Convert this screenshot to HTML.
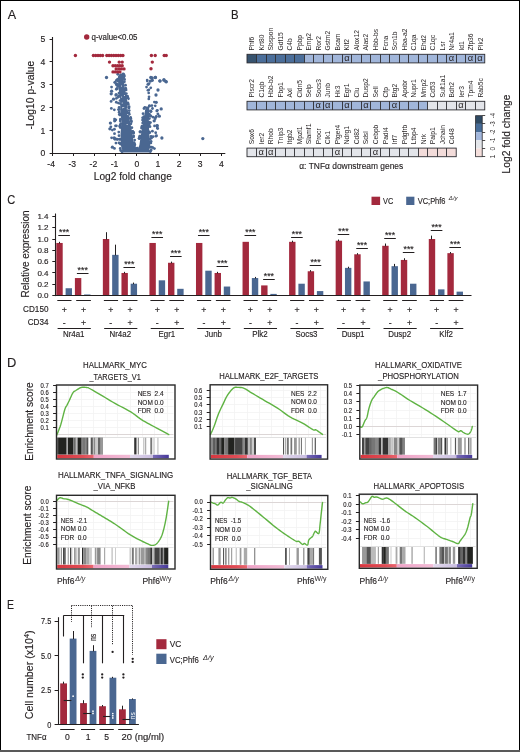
<!DOCTYPE html>
<html><head><meta charset="utf-8"><style>
html,body{margin:0;padding:0;background:#fff;}
body{width:520px;height:752px;overflow:hidden;position:relative;}
svg{position:absolute;left:0;top:0;font-family:"Liberation Sans", sans-serif;will-change:transform;}
</style></head><body>
<svg width="520" height="752" viewBox="0 0 520 752">
<rect x="0" y="0" width="520" height="752" fill="#fff"/>
<text x="7.8" y="19.2" font-size="13" text-anchor="start" fill="#231f20" textLength="8.4" lengthAdjust="spacingAndGlyphs" stroke="#231f20" stroke-width="0.15">A</text>
<text x="231" y="19.4" font-size="13" text-anchor="start" fill="#231f20" textLength="7.6" lengthAdjust="spacingAndGlyphs" stroke="#231f20" stroke-width="0.15">B</text>
<text x="7.2" y="204.4" font-size="13" text-anchor="start" fill="#231f20" textLength="8" lengthAdjust="spacingAndGlyphs" stroke="#231f20" stroke-width="0.15">C</text>
<text x="6.9" y="366.8" font-size="13" text-anchor="start" fill="#231f20" textLength="9.3" lengthAdjust="spacingAndGlyphs" stroke="#231f20" stroke-width="0.15">D</text>
<text x="6.9" y="608.9" font-size="13" text-anchor="start" fill="#231f20" textLength="7" lengthAdjust="spacingAndGlyphs" stroke="#231f20" stroke-width="0.15">E</text>
<polygon points="123,152.6 120.7,145 120.5,133.4 121.5,121.9 120.3,110.4 120.1,98.8 118.3,87.3 118.1,76 120,73.5 122.8,73.5 124.7,87.3 127.1,98.8 127.9,110.4 130.1,121.9 132.5,133.4 133.8,145 134.4,148.6 138.1,148.6 139.4,145 141.1,133.4 143.3,121.9 145,110.4 146.1,106.5 149.1,106.5 149.3,110.4 148.8,121.9 149.3,133.4 150.3,145 148.9,152.6" fill="#4a6791"/>
<circle cx="120.66" cy="150.44" r="1.4" fill="#4a6791"/>
<circle cx="122.01" cy="151.78" r="1.4" fill="#4a6791"/>
<circle cx="121.98" cy="151.23" r="1.4" fill="#4a6791"/>
<circle cx="120.24" cy="148.49" r="1.4" fill="#4a6791"/>
<circle cx="120.37" cy="139.32" r="1.4" fill="#4a6791"/>
<circle cx="120.01" cy="143.31" r="1.4" fill="#4a6791"/>
<circle cx="119.48" cy="139.26" r="1.4" fill="#4a6791"/>
<circle cx="120.51" cy="144.04" r="1.4" fill="#4a6791"/>
<circle cx="119.01" cy="142.94" r="1.4" fill="#4a6791"/>
<circle cx="119" cy="135.7" r="1.4" fill="#4a6791"/>
<circle cx="119.98" cy="126.15" r="1.4" fill="#4a6791"/>
<circle cx="118.78" cy="132.09" r="1.4" fill="#4a6791"/>
<circle cx="120.14" cy="125.2" r="1.4" fill="#4a6791"/>
<circle cx="120.09" cy="126.27" r="1.4" fill="#4a6791"/>
<circle cx="120.79" cy="123.75" r="1.4" fill="#4a6791"/>
<circle cx="120.22" cy="127.54" r="1.4" fill="#4a6791"/>
<circle cx="119.3" cy="114.47" r="1.4" fill="#4a6791"/>
<circle cx="120.29" cy="121.06" r="1.4" fill="#4a6791"/>
<circle cx="120.4" cy="119.23" r="1.4" fill="#4a6791"/>
<circle cx="120.33" cy="114.36" r="1.4" fill="#4a6791"/>
<circle cx="119.18" cy="112.22" r="1.4" fill="#4a6791"/>
<circle cx="120.05" cy="114.98" r="1.4" fill="#4a6791"/>
<circle cx="120.12" cy="100.6" r="1.4" fill="#4a6791"/>
<circle cx="118.39" cy="103.1" r="1.4" fill="#4a6791"/>
<circle cx="120.26" cy="103.54" r="1.4" fill="#4a6791"/>
<circle cx="119.11" cy="107.44" r="1.4" fill="#4a6791"/>
<circle cx="119.32" cy="109.47" r="1.4" fill="#4a6791"/>
<circle cx="118.49" cy="109.58" r="1.4" fill="#4a6791"/>
<circle cx="118.46" cy="97.09" r="1.4" fill="#4a6791"/>
<circle cx="116.79" cy="88.68" r="1.4" fill="#4a6791"/>
<circle cx="118.98" cy="93.12" r="1.4" fill="#4a6791"/>
<circle cx="117.2" cy="88.69" r="1.4" fill="#4a6791"/>
<circle cx="119.32" cy="95.59" r="1.4" fill="#4a6791"/>
<circle cx="118.28" cy="96.53" r="1.4" fill="#4a6791"/>
<circle cx="117.32" cy="84.84" r="1.4" fill="#4a6791"/>
<circle cx="116.36" cy="84.17" r="1.4" fill="#4a6791"/>
<circle cx="117.46" cy="84.03" r="1.4" fill="#4a6791"/>
<circle cx="117.29" cy="79.73" r="1.4" fill="#4a6791"/>
<circle cx="116.37" cy="80.46" r="1.4" fill="#4a6791"/>
<circle cx="117.99" cy="79.08" r="1.4" fill="#4a6791"/>
<circle cx="117.74" cy="74.23" r="1.4" fill="#4a6791"/>
<circle cx="124.38" cy="81.73" r="1.4" fill="#4a6791"/>
<circle cx="123.69" cy="76.19" r="1.4" fill="#4a6791"/>
<circle cx="123.2" cy="73.81" r="1.4" fill="#4a6791"/>
<circle cx="123.73" cy="74.33" r="1.4" fill="#4a6791"/>
<circle cx="125.5" cy="85.14" r="1.4" fill="#4a6791"/>
<circle cx="124" cy="76.82" r="1.4" fill="#4a6791"/>
<circle cx="124.35" cy="75.79" r="1.4" fill="#4a6791"/>
<circle cx="124.57" cy="79.43" r="1.4" fill="#4a6791"/>
<circle cx="125.66" cy="88.19" r="1.4" fill="#4a6791"/>
<circle cx="127.18" cy="96.26" r="1.4" fill="#4a6791"/>
<circle cx="127.92" cy="97.81" r="1.4" fill="#4a6791"/>
<circle cx="126.34" cy="93.58" r="1.4" fill="#4a6791"/>
<circle cx="128.38" cy="98.79" r="1.4" fill="#4a6791"/>
<circle cx="126.07" cy="89.9" r="1.4" fill="#4a6791"/>
<circle cx="127.49" cy="96.51" r="1.4" fill="#4a6791"/>
<circle cx="127.93" cy="103" r="1.4" fill="#4a6791"/>
<circle cx="129.21" cy="110.59" r="1.4" fill="#4a6791"/>
<circle cx="128.94" cy="107.96" r="1.4" fill="#4a6791"/>
<circle cx="128.24" cy="104.24" r="1.4" fill="#4a6791"/>
<circle cx="127.76" cy="98.84" r="1.4" fill="#4a6791"/>
<circle cx="129.1" cy="106.77" r="1.4" fill="#4a6791"/>
<circle cx="131.45" cy="121.72" r="1.4" fill="#4a6791"/>
<circle cx="129.27" cy="114.27" r="1.4" fill="#4a6791"/>
<circle cx="128.88" cy="112.81" r="1.4" fill="#4a6791"/>
<circle cx="131.19" cy="120.73" r="1.4" fill="#4a6791"/>
<circle cx="130.6" cy="117.41" r="1.4" fill="#4a6791"/>
<circle cx="130.75" cy="118.34" r="1.4" fill="#4a6791"/>
<circle cx="130.42" cy="118.64" r="1.4" fill="#4a6791"/>
<circle cx="132.69" cy="131.34" r="1.4" fill="#4a6791"/>
<circle cx="133.21" cy="132.96" r="1.4" fill="#4a6791"/>
<circle cx="133.54" cy="132.39" r="1.4" fill="#4a6791"/>
<circle cx="130.89" cy="123.85" r="1.4" fill="#4a6791"/>
<circle cx="132.51" cy="131.57" r="1.4" fill="#4a6791"/>
<circle cx="133.54" cy="132.99" r="1.4" fill="#4a6791"/>
<circle cx="131.87" cy="127.63" r="1.4" fill="#4a6791"/>
<circle cx="134.84" cy="144.69" r="1.4" fill="#4a6791"/>
<circle cx="134.53" cy="144.68" r="1.4" fill="#4a6791"/>
<circle cx="134.13" cy="142.69" r="1.4" fill="#4a6791"/>
<circle cx="133.47" cy="136.9" r="1.4" fill="#4a6791"/>
<circle cx="133.64" cy="135.97" r="1.4" fill="#4a6791"/>
<circle cx="134.41" cy="143.91" r="1.4" fill="#4a6791"/>
<circle cx="134.64" cy="140.07" r="1.4" fill="#4a6791"/>
<circle cx="135.25" cy="148.34" r="1.4" fill="#4a6791"/>
<circle cx="134.44" cy="146.81" r="1.4" fill="#4a6791"/>
<circle cx="136.84" cy="148.3" r="1.4" fill="#4a6791"/>
<circle cx="137.39" cy="148.25" r="1.4" fill="#4a6791"/>
<circle cx="139.24" cy="138.57" r="1.4" fill="#4a6791"/>
<circle cx="139.79" cy="138.08" r="1.4" fill="#4a6791"/>
<circle cx="139.15" cy="138.23" r="1.4" fill="#4a6791"/>
<circle cx="139.82" cy="136.12" r="1.4" fill="#4a6791"/>
<circle cx="140.29" cy="136.12" r="1.4" fill="#4a6791"/>
<circle cx="139.55" cy="137.91" r="1.4" fill="#4a6791"/>
<circle cx="139.62" cy="137" r="1.4" fill="#4a6791"/>
<circle cx="141.78" cy="128.14" r="1.4" fill="#4a6791"/>
<circle cx="142.66" cy="123.03" r="1.4" fill="#4a6791"/>
<circle cx="141.96" cy="127.37" r="1.4" fill="#4a6791"/>
<circle cx="140.05" cy="131.75" r="1.4" fill="#4a6791"/>
<circle cx="140.05" cy="132.05" r="1.4" fill="#4a6791"/>
<circle cx="142.01" cy="126.18" r="1.4" fill="#4a6791"/>
<circle cx="140.8" cy="131.82" r="1.4" fill="#4a6791"/>
<circle cx="143.1" cy="120.82" r="1.4" fill="#4a6791"/>
<circle cx="143.32" cy="119.25" r="1.4" fill="#4a6791"/>
<circle cx="143.82" cy="116.7" r="1.4" fill="#4a6791"/>
<circle cx="142.59" cy="120.06" r="1.4" fill="#4a6791"/>
<circle cx="142.61" cy="117.78" r="1.4" fill="#4a6791"/>
<circle cx="143.05" cy="113.66" r="1.4" fill="#4a6791"/>
<circle cx="144.01" cy="108.48" r="1.4" fill="#4a6791"/>
<circle cx="144.8" cy="107.44" r="1.4" fill="#4a6791"/>
<circle cx="150.77" cy="111.29" r="1.4" fill="#4a6791"/>
<circle cx="149.55" cy="105.99" r="1.4" fill="#4a6791"/>
<circle cx="149.35" cy="118.62" r="1.4" fill="#4a6791"/>
<circle cx="150.81" cy="115.89" r="1.4" fill="#4a6791"/>
<circle cx="149.37" cy="114.21" r="1.4" fill="#4a6791"/>
<circle cx="150.32" cy="116.14" r="1.4" fill="#4a6791"/>
<circle cx="150.55" cy="110.91" r="1.4" fill="#4a6791"/>
<circle cx="151.04" cy="111.5" r="1.4" fill="#4a6791"/>
<circle cx="149.27" cy="131.83" r="1.4" fill="#4a6791"/>
<circle cx="150.46" cy="122.57" r="1.4" fill="#4a6791"/>
<circle cx="149.98" cy="126.65" r="1.4" fill="#4a6791"/>
<circle cx="149.09" cy="125.03" r="1.4" fill="#4a6791"/>
<circle cx="149.04" cy="123.96" r="1.4" fill="#4a6791"/>
<circle cx="149.13" cy="122.1" r="1.4" fill="#4a6791"/>
<circle cx="151.02" cy="136.52" r="1.4" fill="#4a6791"/>
<circle cx="150.06" cy="138.9" r="1.4" fill="#4a6791"/>
<circle cx="149.72" cy="132.64" r="1.4" fill="#4a6791"/>
<circle cx="151.04" cy="141.28" r="1.4" fill="#4a6791"/>
<circle cx="151.54" cy="138.12" r="1.4" fill="#4a6791"/>
<circle cx="150.88" cy="142.89" r="1.4" fill="#4a6791"/>
<circle cx="149.82" cy="151.36" r="1.4" fill="#4a6791"/>
<circle cx="151.2" cy="149.91" r="1.4" fill="#4a6791"/>
<circle cx="150.45" cy="151.6" r="1.4" fill="#4a6791"/>
<circle cx="150.33" cy="147.18" r="1.4" fill="#4a6791"/>
<circle cx="147.14" cy="80.02" r="1.35" fill="#4a6791"/>
<circle cx="148.8" cy="98.97" r="1.35" fill="#4a6791"/>
<circle cx="147.26" cy="81.06" r="1.35" fill="#4a6791"/>
<circle cx="154.33" cy="102.08" r="1.35" fill="#4a6791"/>
<circle cx="149.04" cy="96.79" r="1.35" fill="#4a6791"/>
<circle cx="149.14" cy="83.51" r="1.35" fill="#4a6791"/>
<circle cx="147.92" cy="90.24" r="1.35" fill="#4a6791"/>
<circle cx="148.87" cy="89.82" r="1.35" fill="#4a6791"/>
<circle cx="155.25" cy="105.82" r="1.35" fill="#4a6791"/>
<circle cx="148.7" cy="92.96" r="1.35" fill="#4a6791"/>
<circle cx="149.29" cy="105.94" r="1.35" fill="#4a6791"/>
<circle cx="146.51" cy="87.05" r="1.35" fill="#4a6791"/>
<circle cx="150.77" cy="87.83" r="1.35" fill="#4a6791"/>
<circle cx="123.75" cy="107.62" r="0.5" fill="#ffffff"/>
<circle cx="122.59" cy="107.71" r="0.5" fill="#ffffff"/>
<circle cx="121.65" cy="96.89" r="0.5" fill="#ffffff"/>
<circle cx="122.18" cy="102.98" r="0.5" fill="#ffffff"/>
<circle cx="121.49" cy="86.01" r="0.5" fill="#ffffff"/>
<circle cx="124.44" cy="95.48" r="0.5" fill="#ffffff"/>
<circle cx="127.21" cy="108.81" r="0.5" fill="#ffffff"/>
<circle cx="127.77" cy="114.59" r="0.5" fill="#ffffff"/>
<circle cx="127.14" cy="124.56" r="0.5" fill="#ffffff"/>
<circle cx="127.39" cy="99.68" r="0.5" fill="#ffffff"/>
<circle cx="116.29" cy="94.72" r="1.4" fill="#4a6791"/>
<circle cx="110.85" cy="126.81" r="1.4" fill="#4a6791"/>
<circle cx="117.64" cy="139.29" r="1.4" fill="#4a6791"/>
<circle cx="116.37" cy="125.78" r="1.4" fill="#4a6791"/>
<circle cx="111.61" cy="137.79" r="1.4" fill="#4a6791"/>
<circle cx="114.53" cy="119.04" r="1.4" fill="#4a6791"/>
<circle cx="116.94" cy="139.27" r="1.4" fill="#4a6791"/>
<circle cx="115.17" cy="138.72" r="1.4" fill="#4a6791"/>
<circle cx="115.96" cy="143.03" r="1.4" fill="#4a6791"/>
<circle cx="112.34" cy="130.07" r="1.4" fill="#4a6791"/>
<circle cx="111.56" cy="87.03" r="1.4" fill="#4a6791"/>
<circle cx="111.34" cy="108.45" r="1.4" fill="#4a6791"/>
<circle cx="114.97" cy="139.33" r="1.4" fill="#4a6791"/>
<circle cx="115.51" cy="125.8" r="1.4" fill="#4a6791"/>
<circle cx="114.41" cy="129.24" r="1.4" fill="#4a6791"/>
<circle cx="116.88" cy="85.22" r="1.4" fill="#4a6791"/>
<circle cx="114.52" cy="133.64" r="1.4" fill="#4a6791"/>
<circle cx="115.77" cy="119.79" r="1.4" fill="#4a6791"/>
<circle cx="116.39" cy="89.29" r="1.4" fill="#4a6791"/>
<circle cx="111.1" cy="101.39" r="1.4" fill="#4a6791"/>
<circle cx="116.33" cy="102.26" r="1.4" fill="#4a6791"/>
<circle cx="116.42" cy="98.34" r="1.4" fill="#4a6791"/>
<circle cx="114.45" cy="148.42" r="1.4" fill="#4a6791"/>
<circle cx="114.33" cy="109.87" r="1.4" fill="#4a6791"/>
<circle cx="156.49" cy="135.77" r="1.4" fill="#4a6791"/>
<circle cx="155.68" cy="132.76" r="1.4" fill="#4a6791"/>
<circle cx="152.46" cy="108.49" r="1.4" fill="#4a6791"/>
<circle cx="156.33" cy="116.43" r="1.4" fill="#4a6791"/>
<circle cx="155.19" cy="118.7" r="1.4" fill="#4a6791"/>
<circle cx="151.89" cy="105.56" r="1.4" fill="#4a6791"/>
<circle cx="155.87" cy="117.09" r="1.4" fill="#4a6791"/>
<circle cx="155.89" cy="136.15" r="1.4" fill="#4a6791"/>
<circle cx="154.86" cy="118.09" r="1.4" fill="#4a6791"/>
<circle cx="154.53" cy="125.91" r="1.4" fill="#4a6791"/>
<circle cx="157.31" cy="110.33" r="1.4" fill="#4a6791"/>
<circle cx="157.86" cy="113.97" r="1.4" fill="#4a6791"/>
<circle cx="151.61" cy="147.13" r="1.4" fill="#4a6791"/>
<circle cx="156.83" cy="125.65" r="1.4" fill="#4a6791"/>
<circle cx="154.42" cy="148.56" r="1.4" fill="#4a6791"/>
<circle cx="152.86" cy="117.09" r="1.4" fill="#4a6791"/>
<circle cx="152.87" cy="147.55" r="1.4" fill="#4a6791"/>
<circle cx="152.42" cy="131.17" r="1.4" fill="#4a6791"/>
<circle cx="157.69" cy="128.58" r="1.4" fill="#4a6791"/>
<circle cx="156.83" cy="110.97" r="1.4" fill="#4a6791"/>
<circle cx="157.26" cy="127.89" r="1.4" fill="#4a6791"/>
<circle cx="153" cy="136.65" r="1.4" fill="#4a6791"/>
<circle cx="106.5" cy="77.5" r="1.65" fill="#4a6791"/>
<circle cx="110.4" cy="123.1" r="1.65" fill="#4a6791"/>
<circle cx="109.9" cy="128.8" r="1.65" fill="#4a6791"/>
<circle cx="114.2" cy="138" r="1.65" fill="#4a6791"/>
<circle cx="112.4" cy="147.2" r="1.65" fill="#4a6791"/>
<circle cx="114.7" cy="120.8" r="1.65" fill="#4a6791"/>
<circle cx="161.2" cy="108.9" r="1.65" fill="#4a6791"/>
<circle cx="159.3" cy="116.2" r="1.65" fill="#4a6791"/>
<circle cx="157.3" cy="125.7" r="1.65" fill="#4a6791"/>
<circle cx="161.9" cy="138" r="1.65" fill="#4a6791"/>
<circle cx="159.9" cy="80.8" r="1.65" fill="#4a6791"/>
<circle cx="165.8" cy="81.5" r="1.65" fill="#4a6791"/>
<circle cx="163.9" cy="80" r="1.65" fill="#4a6791"/>
<circle cx="155.3" cy="77.4" r="1.65" fill="#4a6791"/>
<circle cx="152.2" cy="78" r="1.65" fill="#4a6791"/>
<circle cx="156.2" cy="102.3" r="1.65" fill="#4a6791"/>
<circle cx="154.2" cy="120.8" r="1.65" fill="#4a6791"/>
<circle cx="111.6" cy="91.2" r="1.65" fill="#4a6791"/>
<circle cx="111.2" cy="93.8" r="1.65" fill="#4a6791"/>
<circle cx="113.5" cy="99.2" r="1.65" fill="#4a6791"/>
<circle cx="118.1" cy="80.8" r="1.65" fill="#4a6791"/>
<circle cx="115" cy="82.3" r="1.65" fill="#4a6791"/>
<circle cx="119.6" cy="77.7" r="1.65" fill="#4a6791"/>
<circle cx="202.8" cy="138.6" r="1.65" fill="#4a6791"/>
<circle cx="150.8" cy="77.5" r="1.65" fill="#4a6791"/>
<circle cx="155.4" cy="77.5" r="1.65" fill="#4a6791"/>
<circle cx="152.3" cy="80.3" r="1.65" fill="#4a6791"/>
<circle cx="150.4" cy="81.1" r="1.65" fill="#4a6791"/>
<circle cx="160" cy="81.1" r="1.65" fill="#4a6791"/>
<circle cx="164" cy="79.9" r="1.65" fill="#4a6791"/>
<circle cx="166.3" cy="81.8" r="1.65" fill="#4a6791"/>
<circle cx="148.1" cy="84.3" r="1.65" fill="#4a6791"/>
<circle cx="121" cy="76" r="1.65" fill="#4a6791"/>
<circle cx="123" cy="78" r="1.65" fill="#4a6791"/>
<circle cx="118" cy="86" r="1.65" fill="#4a6791"/>
<circle cx="116" cy="95" r="1.65" fill="#4a6791"/>
<circle cx="158" cy="90" r="1.65" fill="#4a6791"/>
<circle cx="156" cy="95" r="1.65" fill="#4a6791"/>
<circle cx="75.4" cy="55.5" r="1.7" fill="#a3293d"/>
<circle cx="109.5" cy="62.1" r="1.7" fill="#a3293d"/>
<circle cx="119.2" cy="62.1" r="1.7" fill="#a3293d"/>
<circle cx="122.2" cy="62.1" r="1.7" fill="#a3293d"/>
<circle cx="151.4" cy="55.5" r="1.7" fill="#a3293d"/>
<circle cx="155.2" cy="55.5" r="1.7" fill="#a3293d"/>
<circle cx="164.2" cy="55.5" r="1.7" fill="#a3293d"/>
<circle cx="166.2" cy="55.5" r="1.7" fill="#a3293d"/>
<circle cx="152.3" cy="62.1" r="1.7" fill="#a3293d"/>
<circle cx="151" cy="68.8" r="1.7" fill="#a3293d"/>
<circle cx="93.4" cy="55.5" r="1.7" fill="#a3293d"/>
<circle cx="95.7" cy="55.5" r="1.7" fill="#a3293d"/>
<circle cx="98" cy="55.5" r="1.7" fill="#a3293d"/>
<circle cx="100.3" cy="55.5" r="1.7" fill="#a3293d"/>
<circle cx="102.6" cy="55.5" r="1.7" fill="#a3293d"/>
<circle cx="106.8" cy="55.5" r="1.7" fill="#a3293d"/>
<circle cx="109.1" cy="55.5" r="1.7" fill="#a3293d"/>
<circle cx="111.4" cy="55.5" r="1.7" fill="#a3293d"/>
<circle cx="113.7" cy="55.5" r="1.7" fill="#a3293d"/>
<circle cx="116" cy="55.5" r="1.7" fill="#a3293d"/>
<circle cx="118.3" cy="55.5" r="1.7" fill="#a3293d"/>
<circle cx="120.6" cy="55.5" r="1.7" fill="#a3293d"/>
<circle cx="122.9" cy="55.5" r="1.7" fill="#a3293d"/>
<circle cx="113" cy="65.8" r="1.7" fill="#a3293d"/>
<circle cx="115.3" cy="65.8" r="1.7" fill="#a3293d"/>
<circle cx="117.6" cy="65.8" r="1.7" fill="#a3293d"/>
<circle cx="119.9" cy="65.8" r="1.7" fill="#a3293d"/>
<circle cx="122.2" cy="65.8" r="1.7" fill="#a3293d"/>
<circle cx="116.2" cy="68.9" r="1.7" fill="#a3293d"/>
<circle cx="118.8" cy="68.9" r="1.7" fill="#a3293d"/>
<circle cx="121.4" cy="68.9" r="1.7" fill="#a3293d"/>
<circle cx="124" cy="68.9" r="1.7" fill="#a3293d"/>
<circle cx="113" cy="71.9" r="1.7" fill="#a3293d"/>
<circle cx="115.3" cy="71.9" r="1.7" fill="#a3293d"/>
<circle cx="117.6" cy="71.9" r="1.7" fill="#a3293d"/>
<circle cx="119.9" cy="71.9" r="1.7" fill="#a3293d"/>
<circle cx="86.7" cy="37" r="2.7" fill="#a3293d"/>
<text x="91.5" y="39.6" font-size="8.2" text-anchor="start" fill="#231f20" textLength="46" lengthAdjust="spacingAndGlyphs" stroke="#231f20" stroke-width="0.15">q-value&lt;0.05</text>
<line x1="52.5" y1="37" x2="52.5" y2="153.6" stroke="#231f20" stroke-width="1.1"/>
<line x1="52" y1="153.5" x2="225.3" y2="153.5" stroke="#231f20" stroke-width="1.2"/>
<line x1="49.6" y1="153.5" x2="52.5" y2="153.5" stroke="#231f20" stroke-width="1"/>
<text x="45.2" y="156.3" font-size="8.6" text-anchor="end" fill="#231f20" stroke="#231f20" stroke-width="0.15">0</text>
<line x1="49.6" y1="130.5" x2="52.5" y2="130.5" stroke="#231f20" stroke-width="1"/>
<text x="45.2" y="133.52" font-size="8.6" text-anchor="end" fill="#231f20" stroke="#231f20" stroke-width="0.15">1</text>
<line x1="49.6" y1="107.5" x2="52.5" y2="107.5" stroke="#231f20" stroke-width="1"/>
<text x="45.2" y="110.74" font-size="8.6" text-anchor="end" fill="#231f20" stroke="#231f20" stroke-width="0.15">2</text>
<line x1="49.6" y1="84.5" x2="52.5" y2="84.5" stroke="#231f20" stroke-width="1"/>
<text x="45.2" y="87.96" font-size="8.6" text-anchor="end" fill="#231f20" stroke="#231f20" stroke-width="0.15">3</text>
<line x1="49.6" y1="61.5" x2="52.5" y2="61.5" stroke="#231f20" stroke-width="1"/>
<text x="45.2" y="65.18" font-size="8.6" text-anchor="end" fill="#231f20" stroke="#231f20" stroke-width="0.15">4</text>
<line x1="49.6" y1="39.5" x2="52.5" y2="39.5" stroke="#231f20" stroke-width="1"/>
<text x="45.2" y="42.4" font-size="8.6" text-anchor="end" fill="#231f20" stroke="#231f20" stroke-width="0.15">5</text>
<line x1="52.5" y1="153" x2="52.5" y2="156" stroke="#231f20" stroke-width="1"/>
<text x="51.2" y="167.4" font-size="8.6" text-anchor="middle" fill="#231f20" stroke="#231f20" stroke-width="0.15">-4</text>
<line x1="73.5" y1="153" x2="73.5" y2="156" stroke="#231f20" stroke-width="1"/>
<text x="72.3" y="167.4" font-size="8.6" text-anchor="middle" fill="#231f20" stroke="#231f20" stroke-width="0.15">-3</text>
<line x1="94.5" y1="153" x2="94.5" y2="156" stroke="#231f20" stroke-width="1"/>
<text x="93.4" y="167.4" font-size="8.6" text-anchor="middle" fill="#231f20" stroke="#231f20" stroke-width="0.15">-2</text>
<line x1="115.5" y1="153" x2="115.5" y2="156" stroke="#231f20" stroke-width="1"/>
<text x="114.5" y="167.4" font-size="8.6" text-anchor="middle" fill="#231f20" stroke="#231f20" stroke-width="0.15">-1</text>
<line x1="136.5" y1="153" x2="136.5" y2="156" stroke="#231f20" stroke-width="1"/>
<text x="136.9" y="167.4" font-size="8.6" text-anchor="middle" fill="#231f20" stroke="#231f20" stroke-width="0.15">0</text>
<line x1="158.5" y1="153" x2="158.5" y2="156" stroke="#231f20" stroke-width="1"/>
<text x="158" y="167.4" font-size="8.6" text-anchor="middle" fill="#231f20" stroke="#231f20" stroke-width="0.15">1</text>
<line x1="179.5" y1="153" x2="179.5" y2="156" stroke="#231f20" stroke-width="1"/>
<text x="179.1" y="167.4" font-size="8.6" text-anchor="middle" fill="#231f20" stroke="#231f20" stroke-width="0.15">2</text>
<line x1="200.5" y1="153" x2="200.5" y2="156" stroke="#231f20" stroke-width="1"/>
<text x="200.2" y="167.4" font-size="8.6" text-anchor="middle" fill="#231f20" stroke="#231f20" stroke-width="0.15">3</text>
<line x1="221.5" y1="153" x2="221.5" y2="156" stroke="#231f20" stroke-width="1"/>
<text x="221.3" y="167.4" font-size="8.6" text-anchor="middle" fill="#231f20" stroke="#231f20" stroke-width="0.15">4</text>
<text transform="translate(34.4,95.2) rotate(-90)" font-size="10.2" text-anchor="middle" fill="#231f20" textLength="68.7" lengthAdjust="spacingAndGlyphs" stroke="#231f20" stroke-width="0.15">-Log10 p-value</text>
<text x="132.8" y="179.9" font-size="10.2" text-anchor="middle" fill="#231f20" textLength="78" lengthAdjust="spacingAndGlyphs" stroke="#231f20" stroke-width="0.15">Log2 fold change</text>
<rect x="247" y="54.3" width="9.51" height="8.6" fill="#37536f"/>
<rect x="256.51" y="54.3" width="9.51" height="8.6" fill="#4b6e9a"/>
<rect x="266.02" y="54.3" width="9.51" height="8.6" fill="#4b6e9a"/>
<rect x="275.53" y="54.3" width="9.51" height="8.6" fill="#4b6e9a"/>
<rect x="285.04" y="54.3" width="9.51" height="8.6" fill="#4b6e9a"/>
<rect x="294.55" y="54.3" width="9.51" height="8.6" fill="#4b6e9a"/>
<rect x="304.06" y="54.3" width="9.51" height="8.6" fill="#a1b6da"/>
<rect x="313.57" y="54.3" width="9.51" height="8.6" fill="#a1b6da"/>
<rect x="323.08" y="54.3" width="9.51" height="8.6" fill="#a1b6da"/>
<rect x="332.59" y="54.3" width="9.51" height="8.6" fill="#a1b6da"/>
<rect x="342.1" y="54.3" width="9.51" height="8.6" fill="#a1b6da"/>
<rect x="351.61" y="54.3" width="9.51" height="8.6" fill="#a1b6da"/>
<rect x="361.12" y="54.3" width="9.51" height="8.6" fill="#a1b6da"/>
<rect x="370.63" y="54.3" width="9.51" height="8.6" fill="#a1b6da"/>
<rect x="380.14" y="54.3" width="9.51" height="8.6" fill="#a1b6da"/>
<rect x="389.65" y="54.3" width="9.51" height="8.6" fill="#a1b6da"/>
<rect x="399.16" y="54.3" width="9.51" height="8.6" fill="#a1b6da"/>
<rect x="408.67" y="54.3" width="9.51" height="8.6" fill="#a1b6da"/>
<rect x="418.18" y="54.3" width="9.51" height="8.6" fill="#a1b6da"/>
<rect x="427.69" y="54.3" width="9.51" height="8.6" fill="#a1b6da"/>
<rect x="437.2" y="54.3" width="9.51" height="8.6" fill="#a1b6da"/>
<rect x="446.71" y="54.3" width="9.51" height="8.6" fill="#a1b6da"/>
<rect x="456.22" y="54.3" width="9.51" height="8.6" fill="#a1b6da"/>
<rect x="465.73" y="54.3" width="9.51" height="8.6" fill="#a1b6da"/>
<rect x="475.24" y="54.3" width="9.51" height="8.6" fill="#a1b6da"/>
<rect x="247" y="54.3" width="237.75" height="8.6" fill="none" stroke="#2b2b30" stroke-width="0.9"/>
<line x1="256.5" y1="54.3" x2="256.5" y2="62.9" stroke="#2b2b30" stroke-width="0.9"/>
<line x1="266.5" y1="54.3" x2="266.5" y2="62.9" stroke="#2b2b30" stroke-width="0.9"/>
<line x1="275.5" y1="54.3" x2="275.5" y2="62.9" stroke="#2b2b30" stroke-width="0.9"/>
<line x1="285.5" y1="54.3" x2="285.5" y2="62.9" stroke="#2b2b30" stroke-width="0.9"/>
<line x1="294.5" y1="54.3" x2="294.5" y2="62.9" stroke="#2b2b30" stroke-width="0.9"/>
<line x1="304.5" y1="54.3" x2="304.5" y2="62.9" stroke="#2b2b30" stroke-width="0.9"/>
<line x1="313.5" y1="54.3" x2="313.5" y2="62.9" stroke="#2b2b30" stroke-width="0.9"/>
<line x1="323.5" y1="54.3" x2="323.5" y2="62.9" stroke="#2b2b30" stroke-width="0.9"/>
<line x1="332.5" y1="54.3" x2="332.5" y2="62.9" stroke="#2b2b30" stroke-width="0.9"/>
<line x1="342.5" y1="54.3" x2="342.5" y2="62.9" stroke="#2b2b30" stroke-width="0.9"/>
<line x1="351.5" y1="54.3" x2="351.5" y2="62.9" stroke="#2b2b30" stroke-width="0.9"/>
<line x1="361.5" y1="54.3" x2="361.5" y2="62.9" stroke="#2b2b30" stroke-width="0.9"/>
<line x1="370.5" y1="54.3" x2="370.5" y2="62.9" stroke="#2b2b30" stroke-width="0.9"/>
<line x1="380.5" y1="54.3" x2="380.5" y2="62.9" stroke="#2b2b30" stroke-width="0.9"/>
<line x1="389.5" y1="54.3" x2="389.5" y2="62.9" stroke="#2b2b30" stroke-width="0.9"/>
<line x1="399.5" y1="54.3" x2="399.5" y2="62.9" stroke="#2b2b30" stroke-width="0.9"/>
<line x1="408.5" y1="54.3" x2="408.5" y2="62.9" stroke="#2b2b30" stroke-width="0.9"/>
<line x1="418.5" y1="54.3" x2="418.5" y2="62.9" stroke="#2b2b30" stroke-width="0.9"/>
<line x1="427.5" y1="54.3" x2="427.5" y2="62.9" stroke="#2b2b30" stroke-width="0.9"/>
<line x1="437.5" y1="54.3" x2="437.5" y2="62.9" stroke="#2b2b30" stroke-width="0.9"/>
<line x1="446.5" y1="54.3" x2="446.5" y2="62.9" stroke="#2b2b30" stroke-width="0.9"/>
<line x1="456.5" y1="54.3" x2="456.5" y2="62.9" stroke="#2b2b30" stroke-width="0.9"/>
<line x1="465.5" y1="54.3" x2="465.5" y2="62.9" stroke="#2b2b30" stroke-width="0.9"/>
<line x1="475.5" y1="54.3" x2="475.5" y2="62.9" stroke="#2b2b30" stroke-width="0.9"/>
<text transform="translate(254.35,50.5) rotate(-90)" font-size="7.4" text-anchor="start" fill="#2a2627" textLength="13.7" lengthAdjust="spacingAndGlyphs">Phf6</text>
<text transform="translate(263.87,50.5) rotate(-90)" font-size="7.4" text-anchor="start" fill="#2a2627" textLength="15.92" lengthAdjust="spacingAndGlyphs">Krt80</text>
<text transform="translate(273.38,50.5) rotate(-90)" font-size="7.4" text-anchor="start" fill="#2a2627" textLength="22.59" lengthAdjust="spacingAndGlyphs">Sbspon</text>
<text transform="translate(282.88,50.5) rotate(-90)" font-size="7.4" text-anchor="start" fill="#2a2627" textLength="18.14" lengthAdjust="spacingAndGlyphs">Gdf15</text>
<text transform="translate(292.4,50.5) rotate(-90)" font-size="7.4" text-anchor="start" fill="#2a2627" textLength="12.22" lengthAdjust="spacingAndGlyphs">C4b</text>
<text transform="translate(301.91,50.5) rotate(-90)" font-size="7.4" text-anchor="start" fill="#2a2627" textLength="15.55" lengthAdjust="spacingAndGlyphs">Ppbp</text>
<text transform="translate(311.42,50.5) rotate(-90)" font-size="7.4" text-anchor="start" fill="#2a2627" textLength="17.4" lengthAdjust="spacingAndGlyphs">Emp2</text>
<text transform="translate(320.93,50.5) rotate(-90)" font-size="7.4" text-anchor="start" fill="#2a2627" textLength="14.43" lengthAdjust="spacingAndGlyphs">Ror2</text>
<text transform="translate(330.44,50.5) rotate(-90)" font-size="7.4" text-anchor="start" fill="#2a2627" textLength="19.61" lengthAdjust="spacingAndGlyphs">Gstm2</text>
<text transform="translate(339.95,50.5) rotate(-90)" font-size="7.4" text-anchor="start" fill="#2a2627" textLength="17.02" lengthAdjust="spacingAndGlyphs">Bcam</text>
<text transform="translate(349.46,50.5) rotate(-90)" font-size="7.4" text-anchor="start" fill="#2a2627" textLength="11.48" lengthAdjust="spacingAndGlyphs">Klf2</text>
<text x="346.86" y="60.8" font-size="9" text-anchor="middle" fill="#2a2627" textLength="5.4" lengthAdjust="spacingAndGlyphs">&#945;</text>
<text transform="translate(358.97,50.5) rotate(-90)" font-size="7.4" text-anchor="start" fill="#2a2627" textLength="20.36" lengthAdjust="spacingAndGlyphs">Alox12</text>
<text transform="translate(368.48,50.5) rotate(-90)" font-size="7.4" text-anchor="start" fill="#2a2627" textLength="16.66" lengthAdjust="spacingAndGlyphs">Alas2</text>
<text transform="translate(377.99,50.5) rotate(-90)" font-size="7.4" text-anchor="start" fill="#2a2627" textLength="21.47" lengthAdjust="spacingAndGlyphs">Hbb-bs</text>
<text transform="translate(387.5,50.5) rotate(-90)" font-size="7.4" text-anchor="start" fill="#2a2627" textLength="14.8" lengthAdjust="spacingAndGlyphs">Fcna</text>
<text transform="translate(397,50.5) rotate(-90)" font-size="7.4" text-anchor="start" fill="#2a2627" textLength="18.88" lengthAdjust="spacingAndGlyphs">Scn1b</text>
<text transform="translate(406.51,50.5) rotate(-90)" font-size="7.4" text-anchor="start" fill="#2a2627" textLength="21.84" lengthAdjust="spacingAndGlyphs">Hba-a2</text>
<text transform="translate(416.02,50.5) rotate(-90)" font-size="7.4" text-anchor="start" fill="#2a2627" textLength="15.92" lengthAdjust="spacingAndGlyphs">C1qa</text>
<text transform="translate(425.54,50.5) rotate(-90)" font-size="7.4" text-anchor="start" fill="#2a2627" textLength="15.55" lengthAdjust="spacingAndGlyphs">Ehd2</text>
<text transform="translate(435.05,50.5) rotate(-90)" font-size="7.4" text-anchor="start" fill="#2a2627" textLength="15.55" lengthAdjust="spacingAndGlyphs">C1qc</text>
<text transform="translate(444.56,50.5) rotate(-90)" font-size="7.4" text-anchor="start" fill="#2a2627" textLength="9.25" lengthAdjust="spacingAndGlyphs">Lsr</text>
<text transform="translate(454.07,50.5) rotate(-90)" font-size="7.4" text-anchor="start" fill="#2a2627" textLength="18.14" lengthAdjust="spacingAndGlyphs">Nr4a1</text>
<text x="451.47" y="60.8" font-size="9" text-anchor="middle" fill="#2a2627" textLength="5.4" lengthAdjust="spacingAndGlyphs">&#945;</text>
<text transform="translate(463.58,50.5) rotate(-90)" font-size="7.4" text-anchor="start" fill="#2a2627" textLength="9.26" lengthAdjust="spacingAndGlyphs">Id1</text>
<text transform="translate(473.09,50.5) rotate(-90)" font-size="7.4" text-anchor="start" fill="#2a2627" textLength="17.03" lengthAdjust="spacingAndGlyphs">Zfp36</text>
<text x="470.49" y="60.8" font-size="9" text-anchor="middle" fill="#2a2627" textLength="5.4" lengthAdjust="spacingAndGlyphs">&#945;</text>
<text transform="translate(482.6,50.5) rotate(-90)" font-size="7.4" text-anchor="start" fill="#2a2627" textLength="12.96" lengthAdjust="spacingAndGlyphs">Plk2</text>
<text x="480" y="60.8" font-size="9" text-anchor="middle" fill="#2a2627" textLength="5.4" lengthAdjust="spacingAndGlyphs">&#945;</text>
<rect x="247" y="101.3" width="9.51" height="8.6" fill="#a1b6da"/>
<rect x="256.51" y="101.3" width="9.51" height="8.6" fill="#a1b6da"/>
<rect x="266.02" y="101.3" width="9.51" height="8.6" fill="#a1b6da"/>
<rect x="275.53" y="101.3" width="9.51" height="8.6" fill="#a1b6da"/>
<rect x="285.04" y="101.3" width="9.51" height="8.6" fill="#a1b6da"/>
<rect x="294.55" y="101.3" width="9.51" height="8.6" fill="#a1b6da"/>
<rect x="304.06" y="101.3" width="9.51" height="8.6" fill="#a1b6da"/>
<rect x="313.57" y="101.3" width="9.51" height="8.6" fill="#a1b6da"/>
<rect x="323.08" y="101.3" width="9.51" height="8.6" fill="#a1b6da"/>
<rect x="332.59" y="101.3" width="9.51" height="8.6" fill="#a1b6da"/>
<rect x="342.1" y="101.3" width="9.51" height="8.6" fill="#a1b6da"/>
<rect x="351.61" y="101.3" width="9.51" height="8.6" fill="#a1b6da"/>
<rect x="361.12" y="101.3" width="9.51" height="8.6" fill="#a1b6da"/>
<rect x="370.63" y="101.3" width="9.51" height="8.6" fill="#a1b6da"/>
<rect x="380.14" y="101.3" width="9.51" height="8.6" fill="#a1b6da"/>
<rect x="389.65" y="101.3" width="9.51" height="8.6" fill="#a1b6da"/>
<rect x="399.16" y="101.3" width="9.51" height="8.6" fill="#a1b6da"/>
<rect x="408.67" y="101.3" width="9.51" height="8.6" fill="#a1b6da"/>
<rect x="418.18" y="101.3" width="9.51" height="8.6" fill="#a1b6da"/>
<rect x="427.69" y="101.3" width="9.51" height="8.6" fill="#e3e5ea"/>
<rect x="437.2" y="101.3" width="9.51" height="8.6" fill="#e3e5ea"/>
<rect x="446.71" y="101.3" width="9.51" height="8.6" fill="#e3e5ea"/>
<rect x="456.22" y="101.3" width="9.51" height="8.6" fill="#e3e5ea"/>
<rect x="465.73" y="101.3" width="9.51" height="8.6" fill="#e3e5ea"/>
<rect x="475.24" y="101.3" width="9.51" height="8.6" fill="#e3e5ea"/>
<rect x="247" y="101.3" width="237.75" height="8.6" fill="none" stroke="#2b2b30" stroke-width="0.9"/>
<line x1="256.5" y1="101.3" x2="256.5" y2="109.9" stroke="#2b2b30" stroke-width="0.9"/>
<line x1="266.5" y1="101.3" x2="266.5" y2="109.9" stroke="#2b2b30" stroke-width="0.9"/>
<line x1="275.5" y1="101.3" x2="275.5" y2="109.9" stroke="#2b2b30" stroke-width="0.9"/>
<line x1="285.5" y1="101.3" x2="285.5" y2="109.9" stroke="#2b2b30" stroke-width="0.9"/>
<line x1="294.5" y1="101.3" x2="294.5" y2="109.9" stroke="#2b2b30" stroke-width="0.9"/>
<line x1="304.5" y1="101.3" x2="304.5" y2="109.9" stroke="#2b2b30" stroke-width="0.9"/>
<line x1="313.5" y1="101.3" x2="313.5" y2="109.9" stroke="#2b2b30" stroke-width="0.9"/>
<line x1="323.5" y1="101.3" x2="323.5" y2="109.9" stroke="#2b2b30" stroke-width="0.9"/>
<line x1="332.5" y1="101.3" x2="332.5" y2="109.9" stroke="#2b2b30" stroke-width="0.9"/>
<line x1="342.5" y1="101.3" x2="342.5" y2="109.9" stroke="#2b2b30" stroke-width="0.9"/>
<line x1="351.5" y1="101.3" x2="351.5" y2="109.9" stroke="#2b2b30" stroke-width="0.9"/>
<line x1="361.5" y1="101.3" x2="361.5" y2="109.9" stroke="#2b2b30" stroke-width="0.9"/>
<line x1="370.5" y1="101.3" x2="370.5" y2="109.9" stroke="#2b2b30" stroke-width="0.9"/>
<line x1="380.5" y1="101.3" x2="380.5" y2="109.9" stroke="#2b2b30" stroke-width="0.9"/>
<line x1="389.5" y1="101.3" x2="389.5" y2="109.9" stroke="#2b2b30" stroke-width="0.9"/>
<line x1="399.5" y1="101.3" x2="399.5" y2="109.9" stroke="#2b2b30" stroke-width="0.9"/>
<line x1="408.5" y1="101.3" x2="408.5" y2="109.9" stroke="#2b2b30" stroke-width="0.9"/>
<line x1="418.5" y1="101.3" x2="418.5" y2="109.9" stroke="#2b2b30" stroke-width="0.9"/>
<line x1="427.5" y1="101.3" x2="427.5" y2="109.9" stroke="#2b2b30" stroke-width="0.9"/>
<line x1="437.5" y1="101.3" x2="437.5" y2="109.9" stroke="#2b2b30" stroke-width="0.9"/>
<line x1="446.5" y1="101.3" x2="446.5" y2="109.9" stroke="#2b2b30" stroke-width="0.9"/>
<line x1="456.5" y1="101.3" x2="456.5" y2="109.9" stroke="#2b2b30" stroke-width="0.9"/>
<line x1="465.5" y1="101.3" x2="465.5" y2="109.9" stroke="#2b2b30" stroke-width="0.9"/>
<line x1="475.5" y1="101.3" x2="475.5" y2="109.9" stroke="#2b2b30" stroke-width="0.9"/>
<text transform="translate(254.35,97.5) rotate(-90)" font-size="7.4" text-anchor="start" fill="#2a2627" textLength="18.5" lengthAdjust="spacingAndGlyphs">Plscr2</text>
<text transform="translate(263.87,97.5) rotate(-90)" font-size="7.4" text-anchor="start" fill="#2a2627" textLength="15.92" lengthAdjust="spacingAndGlyphs">C1qb</text>
<text transform="translate(273.38,97.5) rotate(-90)" font-size="7.4" text-anchor="start" fill="#2a2627" textLength="21.84" lengthAdjust="spacingAndGlyphs">Hbb-b2</text>
<text transform="translate(282.88,97.5) rotate(-90)" font-size="7.4" text-anchor="start" fill="#2a2627" textLength="15.18" lengthAdjust="spacingAndGlyphs">Fbp1</text>
<text transform="translate(292.4,97.5) rotate(-90)" font-size="7.4" text-anchor="start" fill="#2a2627" textLength="9.25" lengthAdjust="spacingAndGlyphs">Axl</text>
<text transform="translate(301.91,97.5) rotate(-90)" font-size="7.4" text-anchor="start" fill="#2a2627" textLength="17.4" lengthAdjust="spacingAndGlyphs">Cldn5</text>
<text transform="translate(311.42,97.5) rotate(-90)" font-size="7.4" text-anchor="start" fill="#2a2627" textLength="13.33" lengthAdjust="spacingAndGlyphs">Selp</text>
<text transform="translate(320.93,97.5) rotate(-90)" font-size="7.4" text-anchor="start" fill="#2a2627" textLength="18.51" lengthAdjust="spacingAndGlyphs">Socs3</text>
<text x="318.32" y="107.8" font-size="9" text-anchor="middle" fill="#2a2627" textLength="5.4" lengthAdjust="spacingAndGlyphs">&#945;</text>
<text transform="translate(330.44,97.5) rotate(-90)" font-size="7.4" text-anchor="start" fill="#2a2627" textLength="14.44" lengthAdjust="spacingAndGlyphs">Junb</text>
<text x="327.83" y="107.8" font-size="9" text-anchor="middle" fill="#2a2627" textLength="5.4" lengthAdjust="spacingAndGlyphs">&#945;</text>
<text transform="translate(339.95,97.5) rotate(-90)" font-size="7.4" text-anchor="start" fill="#2a2627" textLength="11.84" lengthAdjust="spacingAndGlyphs">Hk3</text>
<text transform="translate(349.46,97.5) rotate(-90)" font-size="7.4" text-anchor="start" fill="#2a2627" textLength="14.07" lengthAdjust="spacingAndGlyphs">Egr1</text>
<text x="346.86" y="107.8" font-size="9" text-anchor="middle" fill="#2a2627" textLength="5.4" lengthAdjust="spacingAndGlyphs">&#945;</text>
<text transform="translate(358.97,97.5) rotate(-90)" font-size="7.4" text-anchor="start" fill="#2a2627" textLength="9.99" lengthAdjust="spacingAndGlyphs">Clu</text>
<text transform="translate(368.48,97.5) rotate(-90)" font-size="7.4" text-anchor="start" fill="#2a2627" textLength="19.25" lengthAdjust="spacingAndGlyphs">Dusp2</text>
<text x="365.88" y="107.8" font-size="9" text-anchor="middle" fill="#2a2627" textLength="5.4" lengthAdjust="spacingAndGlyphs">&#945;</text>
<text transform="translate(377.99,97.5) rotate(-90)" font-size="7.4" text-anchor="start" fill="#2a2627" textLength="11.11" lengthAdjust="spacingAndGlyphs">Sell</text>
<text transform="translate(387.5,97.5) rotate(-90)" font-size="7.4" text-anchor="start" fill="#2a2627" textLength="10.36" lengthAdjust="spacingAndGlyphs">Cfp</text>
<text transform="translate(397,97.5) rotate(-90)" font-size="7.4" text-anchor="start" fill="#2a2627" textLength="13.7" lengthAdjust="spacingAndGlyphs">Btg2</text>
<text x="394.4" y="107.8" font-size="9" text-anchor="middle" fill="#2a2627" textLength="5.4" lengthAdjust="spacingAndGlyphs">&#945;</text>
<text transform="translate(406.51,97.5) rotate(-90)" font-size="7.4" text-anchor="start" fill="#2a2627" textLength="17.77" lengthAdjust="spacingAndGlyphs">Apobr</text>
<text transform="translate(416.02,97.5) rotate(-90)" font-size="7.4" text-anchor="start" fill="#2a2627" textLength="18.14" lengthAdjust="spacingAndGlyphs">Nupr1</text>
<text transform="translate(425.54,97.5) rotate(-90)" font-size="7.4" text-anchor="start" fill="#2a2627" textLength="18.5" lengthAdjust="spacingAndGlyphs">Mmp2</text>
<text transform="translate(435.05,97.5) rotate(-90)" font-size="7.4" text-anchor="start" fill="#2a2627" textLength="15.92" lengthAdjust="spacingAndGlyphs">Cd53</text>
<text transform="translate(444.56,97.5) rotate(-90)" font-size="7.4" text-anchor="start" fill="#2a2627" textLength="22.59" lengthAdjust="spacingAndGlyphs">Sult1a1</text>
<text transform="translate(454.07,97.5) rotate(-90)" font-size="7.4" text-anchor="start" fill="#2a2627" textLength="15.55" lengthAdjust="spacingAndGlyphs">Bdh2</text>
<text transform="translate(463.58,97.5) rotate(-90)" font-size="7.4" text-anchor="start" fill="#2a2627" textLength="11.47" lengthAdjust="spacingAndGlyphs">Ier3</text>
<text x="460.98" y="107.8" font-size="9" text-anchor="middle" fill="#2a2627" textLength="5.4" lengthAdjust="spacingAndGlyphs">&#945;</text>
<text transform="translate(473.09,97.5) rotate(-90)" font-size="7.4" text-anchor="start" fill="#2a2627" textLength="17.02" lengthAdjust="spacingAndGlyphs">Tpm4</text>
<text transform="translate(482.6,97.5) rotate(-90)" font-size="7.4" text-anchor="start" fill="#2a2627" textLength="19.25" lengthAdjust="spacingAndGlyphs">Rab5c</text>
<rect x="247" y="148.1" width="9.51" height="8.6" fill="#e3e5ea"/>
<rect x="256.51" y="148.1" width="9.51" height="8.6" fill="#e3e5ea"/>
<rect x="266.02" y="148.1" width="9.51" height="8.6" fill="#e3e5ea"/>
<rect x="275.53" y="148.1" width="9.51" height="8.6" fill="#e3e5ea"/>
<rect x="285.04" y="148.1" width="9.51" height="8.6" fill="#e3e5ea"/>
<rect x="294.55" y="148.1" width="9.51" height="8.6" fill="#e3e5ea"/>
<rect x="304.06" y="148.1" width="9.51" height="8.6" fill="#e3e5ea"/>
<rect x="313.57" y="148.1" width="9.51" height="8.6" fill="#e3e5ea"/>
<rect x="323.08" y="148.1" width="9.51" height="8.6" fill="#e3e5ea"/>
<rect x="332.59" y="148.1" width="9.51" height="8.6" fill="#e3e5ea"/>
<rect x="342.1" y="148.1" width="9.51" height="8.6" fill="#e3e5ea"/>
<rect x="351.61" y="148.1" width="9.51" height="8.6" fill="#e3e5ea"/>
<rect x="361.12" y="148.1" width="9.51" height="8.6" fill="#e3e5ea"/>
<rect x="370.63" y="148.1" width="9.51" height="8.6" fill="#e3e5ea"/>
<rect x="380.14" y="148.1" width="9.51" height="8.6" fill="#e3e5ea"/>
<rect x="389.65" y="148.1" width="9.51" height="8.6" fill="#e3e5ea"/>
<rect x="399.16" y="148.1" width="9.51" height="8.6" fill="#e3e5ea"/>
<rect x="408.67" y="148.1" width="9.51" height="8.6" fill="#e3e5ea"/>
<rect x="418.18" y="148.1" width="9.51" height="8.6" fill="#f3dcda"/>
<rect x="427.69" y="148.1" width="9.51" height="8.6" fill="#f3dcda"/>
<rect x="437.2" y="148.1" width="9.51" height="8.6" fill="#f3dcda"/>
<rect x="446.71" y="148.1" width="9.51" height="8.6" fill="#f3dcda"/>
<rect x="247" y="148.1" width="209.22" height="8.6" fill="none" stroke="#2b2b30" stroke-width="0.9"/>
<line x1="256.5" y1="148.1" x2="256.5" y2="156.7" stroke="#2b2b30" stroke-width="0.9"/>
<line x1="266.5" y1="148.1" x2="266.5" y2="156.7" stroke="#2b2b30" stroke-width="0.9"/>
<line x1="275.5" y1="148.1" x2="275.5" y2="156.7" stroke="#2b2b30" stroke-width="0.9"/>
<line x1="285.5" y1="148.1" x2="285.5" y2="156.7" stroke="#2b2b30" stroke-width="0.9"/>
<line x1="294.5" y1="148.1" x2="294.5" y2="156.7" stroke="#2b2b30" stroke-width="0.9"/>
<line x1="304.5" y1="148.1" x2="304.5" y2="156.7" stroke="#2b2b30" stroke-width="0.9"/>
<line x1="313.5" y1="148.1" x2="313.5" y2="156.7" stroke="#2b2b30" stroke-width="0.9"/>
<line x1="323.5" y1="148.1" x2="323.5" y2="156.7" stroke="#2b2b30" stroke-width="0.9"/>
<line x1="332.5" y1="148.1" x2="332.5" y2="156.7" stroke="#2b2b30" stroke-width="0.9"/>
<line x1="342.5" y1="148.1" x2="342.5" y2="156.7" stroke="#2b2b30" stroke-width="0.9"/>
<line x1="351.5" y1="148.1" x2="351.5" y2="156.7" stroke="#2b2b30" stroke-width="0.9"/>
<line x1="361.5" y1="148.1" x2="361.5" y2="156.7" stroke="#2b2b30" stroke-width="0.9"/>
<line x1="370.5" y1="148.1" x2="370.5" y2="156.7" stroke="#2b2b30" stroke-width="0.9"/>
<line x1="380.5" y1="148.1" x2="380.5" y2="156.7" stroke="#2b2b30" stroke-width="0.9"/>
<line x1="389.5" y1="148.1" x2="389.5" y2="156.7" stroke="#2b2b30" stroke-width="0.9"/>
<line x1="399.5" y1="148.1" x2="399.5" y2="156.7" stroke="#2b2b30" stroke-width="0.9"/>
<line x1="408.5" y1="148.1" x2="408.5" y2="156.7" stroke="#2b2b30" stroke-width="0.9"/>
<line x1="418.5" y1="148.1" x2="418.5" y2="156.7" stroke="#2b2b30" stroke-width="0.9"/>
<line x1="427.5" y1="148.1" x2="427.5" y2="156.7" stroke="#2b2b30" stroke-width="0.9"/>
<line x1="437.5" y1="148.1" x2="437.5" y2="156.7" stroke="#2b2b30" stroke-width="0.9"/>
<line x1="446.5" y1="148.1" x2="446.5" y2="156.7" stroke="#2b2b30" stroke-width="0.9"/>
<text transform="translate(254.35,144.3) rotate(-90)" font-size="7.4" text-anchor="start" fill="#2a2627" textLength="15.18" lengthAdjust="spacingAndGlyphs">Sox6</text>
<text transform="translate(263.87,144.3) rotate(-90)" font-size="7.4" text-anchor="start" fill="#2a2627" textLength="11.47" lengthAdjust="spacingAndGlyphs">Ier2</text>
<text x="261.26" y="154.6" font-size="9" text-anchor="middle" fill="#2a2627" textLength="5.4" lengthAdjust="spacingAndGlyphs">&#945;</text>
<text transform="translate(273.38,144.3) rotate(-90)" font-size="7.4" text-anchor="start" fill="#2a2627" textLength="15.92" lengthAdjust="spacingAndGlyphs">Rhob</text>
<text x="270.77" y="154.6" font-size="9" text-anchor="middle" fill="#2a2627" textLength="5.4" lengthAdjust="spacingAndGlyphs">&#945;</text>
<text transform="translate(282.88,144.3) rotate(-90)" font-size="7.4" text-anchor="start" fill="#2a2627" textLength="16.66" lengthAdjust="spacingAndGlyphs">Tnip3</text>
<text transform="translate(292.4,144.3) rotate(-90)" font-size="7.4" text-anchor="start" fill="#2a2627" textLength="14.81" lengthAdjust="spacingAndGlyphs">Itgb2</text>
<text transform="translate(301.91,144.3) rotate(-90)" font-size="7.4" text-anchor="start" fill="#2a2627" textLength="17.76" lengthAdjust="spacingAndGlyphs">Mpzl1</text>
<text transform="translate(311.42,144.3) rotate(-90)" font-size="7.4" text-anchor="start" fill="#2a2627" textLength="20.73" lengthAdjust="spacingAndGlyphs">Slamf1</text>
<text transform="translate(320.93,144.3) rotate(-90)" font-size="7.4" text-anchor="start" fill="#2a2627" textLength="15.91" lengthAdjust="spacingAndGlyphs">Procr</text>
<text transform="translate(330.44,144.3) rotate(-90)" font-size="7.4" text-anchor="start" fill="#2a2627" textLength="13.32" lengthAdjust="spacingAndGlyphs">Clk1</text>
<text transform="translate(339.95,144.3) rotate(-90)" font-size="7.4" text-anchor="start" fill="#2a2627" textLength="19.62" lengthAdjust="spacingAndGlyphs">Ptger4</text>
<text x="337.35" y="154.6" font-size="9" text-anchor="middle" fill="#2a2627" textLength="5.4" lengthAdjust="spacingAndGlyphs">&#945;</text>
<text transform="translate(349.46,144.3) rotate(-90)" font-size="7.4" text-anchor="start" fill="#2a2627" textLength="18.14" lengthAdjust="spacingAndGlyphs">Ndrg1</text>
<text transform="translate(358.97,144.3) rotate(-90)" font-size="7.4" text-anchor="start" fill="#2a2627" textLength="15.92" lengthAdjust="spacingAndGlyphs">Cd82</text>
<text transform="translate(368.48,144.3) rotate(-90)" font-size="7.4" text-anchor="start" fill="#2a2627" textLength="12.96" lengthAdjust="spacingAndGlyphs">Sdsl</text>
<text transform="translate(377.99,144.3) rotate(-90)" font-size="7.4" text-anchor="start" fill="#2a2627" textLength="19.62" lengthAdjust="spacingAndGlyphs">Cebpb</text>
<text x="375.38" y="154.6" font-size="9" text-anchor="middle" fill="#2a2627" textLength="5.4" lengthAdjust="spacingAndGlyphs">&#945;</text>
<text transform="translate(387.5,144.3) rotate(-90)" font-size="7.4" text-anchor="start" fill="#2a2627" textLength="17.03" lengthAdjust="spacingAndGlyphs">Padi4</text>
<text transform="translate(397,144.3) rotate(-90)" font-size="7.4" text-anchor="start" fill="#2a2627" textLength="9.62" lengthAdjust="spacingAndGlyphs">Irf7</text>
<text transform="translate(406.51,144.3) rotate(-90)" font-size="7.4" text-anchor="start" fill="#2a2627" textLength="19.62" lengthAdjust="spacingAndGlyphs">Pdgfrb</text>
<text transform="translate(416.02,144.3) rotate(-90)" font-size="7.4" text-anchor="start" fill="#2a2627" textLength="16.66" lengthAdjust="spacingAndGlyphs">Ltbp4</text>
<text transform="translate(425.54,144.3) rotate(-90)" font-size="7.4" text-anchor="start" fill="#2a2627" textLength="10.36" lengthAdjust="spacingAndGlyphs">Nrk</text>
<text transform="translate(435.05,144.3) rotate(-90)" font-size="7.4" text-anchor="start" fill="#2a2627" textLength="17.03" lengthAdjust="spacingAndGlyphs">Paip1</text>
<text transform="translate(444.56,144.3) rotate(-90)" font-size="7.4" text-anchor="start" fill="#2a2627" textLength="19.25" lengthAdjust="spacingAndGlyphs">Jchain</text>
<text transform="translate(454.07,144.3) rotate(-90)" font-size="7.4" text-anchor="start" fill="#2a2627" textLength="15.92" lengthAdjust="spacingAndGlyphs">Cd48</text>
<text x="299.2" y="168.8" font-size="9.6" text-anchor="start" fill="#231f20" textLength="104" lengthAdjust="spacingAndGlyphs" stroke="#231f20" stroke-width="0.15">&#945;: TNF&#945; downstream genes</text>
<rect x="475.6" y="115.7" width="6.6" height="8.2" fill="#2f4a63"/>
<rect x="475.6" y="123.9" width="6.6" height="8.2" fill="#476c98"/>
<rect x="475.6" y="132.1" width="6.6" height="8.2" fill="#a3b7dc"/>
<rect x="475.6" y="140.3" width="6.6" height="8.2" fill="#e4e6ea"/>
<rect x="475.6" y="148.5" width="6.6" height="8.2" fill="#f5dfdc"/>
<rect x="475.6" y="115.7" width="6.6" height="41" fill="none" stroke="#2b2b30" stroke-width="0.8"/>
<line x1="482.2" y1="115.5" x2="485.2" y2="115.5" stroke="#231f20" stroke-width="0.8"/>
<text transform="translate(494.9,115.7) rotate(-90)" font-size="6.8" text-anchor="middle" fill="#2a2627" textLength="5" lengthAdjust="spacingAndGlyphs">-4</text>
<line x1="482.2" y1="123.5" x2="485.2" y2="123.5" stroke="#231f20" stroke-width="0.8"/>
<text transform="translate(494.9,123.9) rotate(-90)" font-size="6.8" text-anchor="middle" fill="#2a2627" textLength="5" lengthAdjust="spacingAndGlyphs">-3</text>
<line x1="482.2" y1="132.5" x2="485.2" y2="132.5" stroke="#231f20" stroke-width="0.8"/>
<text transform="translate(494.9,132.1) rotate(-90)" font-size="6.8" text-anchor="middle" fill="#2a2627" textLength="5" lengthAdjust="spacingAndGlyphs">-2</text>
<line x1="482.2" y1="140.5" x2="485.2" y2="140.5" stroke="#231f20" stroke-width="0.8"/>
<text transform="translate(494.9,140.3) rotate(-90)" font-size="6.8" text-anchor="middle" fill="#2a2627" textLength="5" lengthAdjust="spacingAndGlyphs">-1</text>
<line x1="482.2" y1="148.5" x2="485.2" y2="148.5" stroke="#231f20" stroke-width="0.8"/>
<text transform="translate(494.9,148.5) rotate(-90)" font-size="6.8" text-anchor="middle" fill="#2a2627">0</text>
<line x1="482.2" y1="156.5" x2="485.2" y2="156.5" stroke="#231f20" stroke-width="0.8"/>
<text transform="translate(494.9,156.7) rotate(-90)" font-size="6.8" text-anchor="middle" fill="#2a2627">1</text>
<text transform="translate(509.6,134) rotate(-90)" font-size="11" text-anchor="middle" fill="#231f20" textLength="79" lengthAdjust="spacingAndGlyphs" stroke="#231f20" stroke-width="0.15">Log2 fold change</text>
<rect x="56.3" y="242.96" width="6.4" height="52.64" fill="#a3293d"/>
<line x1="59.5" y1="241.83" x2="59.5" y2="243.46" stroke="#231f20" stroke-width="1"/>
<rect x="65.6" y="288.24" width="6.4" height="7.36" fill="#4a6791"/>
<rect x="74.9" y="278.05" width="6.4" height="17.55" fill="#a3293d"/>
<rect x="84.1" y="294.47" width="6.4" height="1.13" fill="#4a6791"/>
<line x1="58.3" y1="235.5" x2="69.9" y2="235.5" stroke="#231f20" stroke-width="1"/>
<text x="64.1" y="235.1" font-size="8.6" text-anchor="middle" fill="#231f20" textLength="10.2" lengthAdjust="spacingAndGlyphs" stroke="#231f20" stroke-width="0.15">***</text>
<line x1="76.9" y1="273.5" x2="88.5" y2="273.5" stroke="#231f20" stroke-width="1"/>
<text x="82.7" y="272.8" font-size="8.6" text-anchor="middle" fill="#231f20" textLength="10.2" lengthAdjust="spacingAndGlyphs" stroke="#231f20" stroke-width="0.15">***</text>
<line x1="57.3" y1="300.5" x2="71.5" y2="300.5" stroke="#231f20" stroke-width="1"/>
<line x1="76.2" y1="300.5" x2="90.9" y2="300.5" stroke="#231f20" stroke-width="1"/>
<text x="64.2" y="312.6" font-size="8.8" text-anchor="middle" fill="#231f20" stroke="#231f20" stroke-width="0.15">+</text>
<text x="83.6" y="312.6" font-size="8.8" text-anchor="middle" fill="#231f20" stroke="#231f20" stroke-width="0.15">+</text>
<text x="64.2" y="325.8" font-size="8.8" text-anchor="middle" fill="#231f20" stroke="#231f20" stroke-width="0.15">-</text>
<text x="83.6" y="325.8" font-size="8.8" text-anchor="middle" fill="#231f20" stroke="#231f20" stroke-width="0.15">+</text>
<line x1="57.6" y1="328.5" x2="90.8" y2="328.5" stroke="#231f20" stroke-width="1"/>
<text x="73.7" y="337.4" font-size="8.6" text-anchor="middle" fill="#231f20" textLength="21.55" lengthAdjust="spacingAndGlyphs" stroke="#231f20" stroke-width="0.15">Nr4a1</text>
<rect x="102.86" y="239" width="6.4" height="56.6" fill="#a3293d"/>
<line x1="106.5" y1="232.21" x2="106.5" y2="239.5" stroke="#231f20" stroke-width="1"/>
<rect x="112.16" y="254.85" width="6.4" height="40.75" fill="#4a6791"/>
<line x1="115.5" y1="244.66" x2="115.5" y2="255.35" stroke="#231f20" stroke-width="1"/>
<rect x="121.46" y="272.96" width="6.4" height="22.64" fill="#a3293d"/>
<line x1="124.5" y1="271.83" x2="124.5" y2="273.46" stroke="#231f20" stroke-width="1"/>
<rect x="130.66" y="283.71" width="6.4" height="11.89" fill="#4a6791"/>
<line x1="133.5" y1="282.58" x2="133.5" y2="284.21" stroke="#231f20" stroke-width="1"/>
<line x1="123.46" y1="267.5" x2="135.06" y2="267.5" stroke="#231f20" stroke-width="1"/>
<text x="129.26" y="267.4" font-size="8.6" text-anchor="middle" fill="#231f20" textLength="10.2" lengthAdjust="spacingAndGlyphs" stroke="#231f20" stroke-width="0.15">***</text>
<line x1="103.86" y1="300.5" x2="118.06" y2="300.5" stroke="#231f20" stroke-width="1"/>
<line x1="122.76" y1="300.5" x2="137.46" y2="300.5" stroke="#231f20" stroke-width="1"/>
<text x="110.76" y="312.6" font-size="8.8" text-anchor="middle" fill="#231f20" stroke="#231f20" stroke-width="0.15">+</text>
<text x="130.16" y="312.6" font-size="8.8" text-anchor="middle" fill="#231f20" stroke="#231f20" stroke-width="0.15">+</text>
<text x="110.76" y="325.8" font-size="8.8" text-anchor="middle" fill="#231f20" stroke="#231f20" stroke-width="0.15">-</text>
<text x="130.16" y="325.8" font-size="8.8" text-anchor="middle" fill="#231f20" stroke="#231f20" stroke-width="0.15">+</text>
<line x1="104.16" y1="328.5" x2="137.36" y2="328.5" stroke="#231f20" stroke-width="1"/>
<text x="120.26" y="337.4" font-size="8.6" text-anchor="middle" fill="#231f20" textLength="21.55" lengthAdjust="spacingAndGlyphs" stroke="#231f20" stroke-width="0.15">Nr4a2</text>
<rect x="149.42" y="242.96" width="6.4" height="52.64" fill="#a3293d"/>
<rect x="158.72" y="280.32" width="6.4" height="15.28" fill="#4a6791"/>
<rect x="168.02" y="262.77" width="6.4" height="32.83" fill="#a3293d"/>
<line x1="171.5" y1="261.64" x2="171.5" y2="263.27" stroke="#231f20" stroke-width="1"/>
<rect x="177.22" y="288.81" width="6.4" height="6.79" fill="#4a6791"/>
<line x1="151.42" y1="237.5" x2="163.02" y2="237.5" stroke="#231f20" stroke-width="1"/>
<text x="157.22" y="236.6" font-size="8.6" text-anchor="middle" fill="#231f20" textLength="10.2" lengthAdjust="spacingAndGlyphs" stroke="#231f20" stroke-width="0.15">***</text>
<line x1="170.02" y1="256.5" x2="181.62" y2="256.5" stroke="#231f20" stroke-width="1"/>
<text x="175.82" y="255.8" font-size="8.6" text-anchor="middle" fill="#231f20" textLength="10.2" lengthAdjust="spacingAndGlyphs" stroke="#231f20" stroke-width="0.15">***</text>
<line x1="150.42" y1="300.5" x2="164.62" y2="300.5" stroke="#231f20" stroke-width="1"/>
<line x1="169.32" y1="300.5" x2="184.02" y2="300.5" stroke="#231f20" stroke-width="1"/>
<text x="157.32" y="312.6" font-size="8.8" text-anchor="middle" fill="#231f20" stroke="#231f20" stroke-width="0.15">+</text>
<text x="176.72" y="312.6" font-size="8.8" text-anchor="middle" fill="#231f20" stroke="#231f20" stroke-width="0.15">+</text>
<text x="157.32" y="325.8" font-size="8.8" text-anchor="middle" fill="#231f20" stroke="#231f20" stroke-width="0.15">-</text>
<text x="176.72" y="325.8" font-size="8.8" text-anchor="middle" fill="#231f20" stroke="#231f20" stroke-width="0.15">+</text>
<line x1="150.72" y1="328.5" x2="183.92" y2="328.5" stroke="#231f20" stroke-width="1"/>
<text x="166.82" y="337.4" font-size="8.6" text-anchor="middle" fill="#231f20" textLength="16.71" lengthAdjust="spacingAndGlyphs" stroke="#231f20" stroke-width="0.15">Egr1</text>
<rect x="195.98" y="242.96" width="6.4" height="52.64" fill="#a3293d"/>
<rect x="205.28" y="270.7" width="6.4" height="24.9" fill="#4a6791"/>
<rect x="214.58" y="272.96" width="6.4" height="22.64" fill="#a3293d"/>
<line x1="217.5" y1="271.83" x2="217.5" y2="273.46" stroke="#231f20" stroke-width="1"/>
<rect x="223.78" y="286.54" width="6.4" height="9.06" fill="#4a6791"/>
<line x1="197.98" y1="235.5" x2="209.58" y2="235.5" stroke="#231f20" stroke-width="1"/>
<text x="203.78" y="235.3" font-size="8.6" text-anchor="middle" fill="#231f20" textLength="10.2" lengthAdjust="spacingAndGlyphs" stroke="#231f20" stroke-width="0.15">***</text>
<line x1="216.58" y1="266.5" x2="228.18" y2="266.5" stroke="#231f20" stroke-width="1"/>
<text x="222.38" y="265.8" font-size="8.6" text-anchor="middle" fill="#231f20" textLength="10.2" lengthAdjust="spacingAndGlyphs" stroke="#231f20" stroke-width="0.15">***</text>
<line x1="196.98" y1="300.5" x2="211.18" y2="300.5" stroke="#231f20" stroke-width="1"/>
<line x1="215.88" y1="300.5" x2="230.58" y2="300.5" stroke="#231f20" stroke-width="1"/>
<text x="203.88" y="312.6" font-size="8.8" text-anchor="middle" fill="#231f20" stroke="#231f20" stroke-width="0.15">+</text>
<text x="223.28" y="312.6" font-size="8.8" text-anchor="middle" fill="#231f20" stroke="#231f20" stroke-width="0.15">+</text>
<text x="203.88" y="325.8" font-size="8.8" text-anchor="middle" fill="#231f20" stroke="#231f20" stroke-width="0.15">-</text>
<text x="223.28" y="325.8" font-size="8.8" text-anchor="middle" fill="#231f20" stroke="#231f20" stroke-width="0.15">+</text>
<line x1="197.28" y1="328.5" x2="230.48" y2="328.5" stroke="#231f20" stroke-width="1"/>
<text x="213.38" y="337.4" font-size="8.6" text-anchor="middle" fill="#231f20" textLength="17.16" lengthAdjust="spacingAndGlyphs" stroke="#231f20" stroke-width="0.15">Junb</text>
<rect x="242.54" y="241.83" width="6.4" height="53.77" fill="#a3293d"/>
<rect x="251.84" y="278.05" width="6.4" height="17.55" fill="#4a6791"/>
<line x1="255.5" y1="276.92" x2="255.5" y2="278.55" stroke="#231f20" stroke-width="1"/>
<rect x="261.14" y="285.41" width="6.4" height="10.19" fill="#a3293d"/>
<rect x="270.34" y="293.9" width="6.4" height="1.7" fill="#4a6791"/>
<line x1="244.54" y1="235.5" x2="256.14" y2="235.5" stroke="#231f20" stroke-width="1"/>
<text x="250.34" y="235.3" font-size="8.6" text-anchor="middle" fill="#231f20" textLength="10.2" lengthAdjust="spacingAndGlyphs" stroke="#231f20" stroke-width="0.15">***</text>
<line x1="263.14" y1="279.5" x2="274.74" y2="279.5" stroke="#231f20" stroke-width="1"/>
<text x="268.94" y="278.7" font-size="8.6" text-anchor="middle" fill="#231f20" textLength="10.2" lengthAdjust="spacingAndGlyphs" stroke="#231f20" stroke-width="0.15">***</text>
<line x1="243.54" y1="300.5" x2="257.74" y2="300.5" stroke="#231f20" stroke-width="1"/>
<line x1="262.44" y1="300.5" x2="277.14" y2="300.5" stroke="#231f20" stroke-width="1"/>
<text x="250.44" y="312.6" font-size="8.8" text-anchor="middle" fill="#231f20" stroke="#231f20" stroke-width="0.15">+</text>
<text x="269.84" y="312.6" font-size="8.8" text-anchor="middle" fill="#231f20" stroke="#231f20" stroke-width="0.15">+</text>
<text x="250.44" y="325.8" font-size="8.8" text-anchor="middle" fill="#231f20" stroke="#231f20" stroke-width="0.15">-</text>
<text x="269.84" y="325.8" font-size="8.8" text-anchor="middle" fill="#231f20" stroke="#231f20" stroke-width="0.15">+</text>
<line x1="243.84" y1="328.5" x2="277.04" y2="328.5" stroke="#231f20" stroke-width="1"/>
<text x="259.94" y="337.4" font-size="8.6" text-anchor="middle" fill="#231f20" textLength="15.39" lengthAdjust="spacingAndGlyphs" stroke="#231f20" stroke-width="0.15">Plk2</text>
<rect x="289.1" y="241.83" width="6.4" height="53.77" fill="#a3293d"/>
<line x1="292.5" y1="240.7" x2="292.5" y2="242.33" stroke="#231f20" stroke-width="1"/>
<rect x="298.4" y="283.71" width="6.4" height="11.89" fill="#4a6791"/>
<rect x="307.7" y="271.26" width="6.4" height="24.34" fill="#a3293d"/>
<line x1="310.5" y1="270.13" x2="310.5" y2="271.76" stroke="#231f20" stroke-width="1"/>
<rect x="316.9" y="291.07" width="6.4" height="4.53" fill="#4a6791"/>
<line x1="291.1" y1="237.5" x2="302.7" y2="237.5" stroke="#231f20" stroke-width="1"/>
<text x="296.9" y="236.6" font-size="8.6" text-anchor="middle" fill="#231f20" textLength="10.2" lengthAdjust="spacingAndGlyphs" stroke="#231f20" stroke-width="0.15">***</text>
<line x1="309.7" y1="265.5" x2="321.3" y2="265.5" stroke="#231f20" stroke-width="1"/>
<text x="315.5" y="264.7" font-size="8.6" text-anchor="middle" fill="#231f20" textLength="10.2" lengthAdjust="spacingAndGlyphs" stroke="#231f20" stroke-width="0.15">***</text>
<line x1="290.1" y1="300.5" x2="304.3" y2="300.5" stroke="#231f20" stroke-width="1"/>
<line x1="309" y1="300.5" x2="323.7" y2="300.5" stroke="#231f20" stroke-width="1"/>
<text x="297" y="312.6" font-size="8.8" text-anchor="middle" fill="#231f20" stroke="#231f20" stroke-width="0.15">+</text>
<text x="316.4" y="312.6" font-size="8.8" text-anchor="middle" fill="#231f20" stroke="#231f20" stroke-width="0.15">+</text>
<text x="297" y="325.8" font-size="8.8" text-anchor="middle" fill="#231f20" stroke="#231f20" stroke-width="0.15">-</text>
<text x="316.4" y="325.8" font-size="8.8" text-anchor="middle" fill="#231f20" stroke="#231f20" stroke-width="0.15">+</text>
<line x1="290.4" y1="328.5" x2="323.6" y2="328.5" stroke="#231f20" stroke-width="1"/>
<text x="306.5" y="337.4" font-size="8.6" text-anchor="middle" fill="#231f20" textLength="21.99" lengthAdjust="spacingAndGlyphs" stroke="#231f20" stroke-width="0.15">Socs3</text>
<rect x="335.66" y="240.7" width="6.4" height="54.9" fill="#a3293d"/>
<line x1="338.5" y1="239.57" x2="338.5" y2="241.2" stroke="#231f20" stroke-width="1"/>
<rect x="344.96" y="267.87" width="6.4" height="27.73" fill="#4a6791"/>
<line x1="348.5" y1="266.73" x2="348.5" y2="268.37" stroke="#231f20" stroke-width="1"/>
<rect x="354.26" y="254.28" width="6.4" height="41.32" fill="#a3293d"/>
<line x1="357.5" y1="253.15" x2="357.5" y2="254.78" stroke="#231f20" stroke-width="1"/>
<rect x="363.46" y="281.45" width="6.4" height="14.15" fill="#4a6791"/>
<line x1="337.66" y1="234.5" x2="349.26" y2="234.5" stroke="#231f20" stroke-width="1"/>
<text x="343.46" y="234.3" font-size="8.6" text-anchor="middle" fill="#231f20" textLength="10.2" lengthAdjust="spacingAndGlyphs" stroke="#231f20" stroke-width="0.15">***</text>
<line x1="356.26" y1="248.5" x2="367.86" y2="248.5" stroke="#231f20" stroke-width="1"/>
<text x="362.06" y="247.6" font-size="8.6" text-anchor="middle" fill="#231f20" textLength="10.2" lengthAdjust="spacingAndGlyphs" stroke="#231f20" stroke-width="0.15">***</text>
<line x1="336.66" y1="300.5" x2="350.86" y2="300.5" stroke="#231f20" stroke-width="1"/>
<line x1="355.56" y1="300.5" x2="370.26" y2="300.5" stroke="#231f20" stroke-width="1"/>
<text x="343.56" y="312.6" font-size="8.8" text-anchor="middle" fill="#231f20" stroke="#231f20" stroke-width="0.15">+</text>
<text x="362.96" y="312.6" font-size="8.8" text-anchor="middle" fill="#231f20" stroke="#231f20" stroke-width="0.15">+</text>
<text x="343.56" y="325.8" font-size="8.8" text-anchor="middle" fill="#231f20" stroke="#231f20" stroke-width="0.15">-</text>
<text x="362.96" y="325.8" font-size="8.8" text-anchor="middle" fill="#231f20" stroke="#231f20" stroke-width="0.15">+</text>
<line x1="336.96" y1="328.5" x2="370.16" y2="328.5" stroke="#231f20" stroke-width="1"/>
<text x="353.06" y="337.4" font-size="8.6" text-anchor="middle" fill="#231f20" textLength="22.87" lengthAdjust="spacingAndGlyphs" stroke="#231f20" stroke-width="0.15">Dusp1</text>
<rect x="382.22" y="245.79" width="6.4" height="49.81" fill="#a3293d"/>
<line x1="385.5" y1="243.53" x2="385.5" y2="246.29" stroke="#231f20" stroke-width="1"/>
<rect x="391.52" y="266.17" width="6.4" height="29.43" fill="#4a6791"/>
<line x1="394.5" y1="263.9" x2="394.5" y2="266.67" stroke="#231f20" stroke-width="1"/>
<rect x="400.82" y="259.94" width="6.4" height="35.66" fill="#a3293d"/>
<line x1="404.5" y1="258.24" x2="404.5" y2="260.44" stroke="#231f20" stroke-width="1"/>
<rect x="410.02" y="283.71" width="6.4" height="11.89" fill="#4a6791"/>
<line x1="384.22" y1="238.5" x2="395.82" y2="238.5" stroke="#231f20" stroke-width="1"/>
<text x="390.02" y="237.6" font-size="8.6" text-anchor="middle" fill="#231f20" textLength="10.2" lengthAdjust="spacingAndGlyphs" stroke="#231f20" stroke-width="0.15">***</text>
<line x1="402.82" y1="252.5" x2="414.42" y2="252.5" stroke="#231f20" stroke-width="1"/>
<text x="408.62" y="252" font-size="8.6" text-anchor="middle" fill="#231f20" textLength="10.2" lengthAdjust="spacingAndGlyphs" stroke="#231f20" stroke-width="0.15">***</text>
<line x1="383.22" y1="300.5" x2="397.42" y2="300.5" stroke="#231f20" stroke-width="1"/>
<line x1="402.12" y1="300.5" x2="416.82" y2="300.5" stroke="#231f20" stroke-width="1"/>
<text x="390.12" y="312.6" font-size="8.8" text-anchor="middle" fill="#231f20" stroke="#231f20" stroke-width="0.15">+</text>
<text x="409.52" y="312.6" font-size="8.8" text-anchor="middle" fill="#231f20" stroke="#231f20" stroke-width="0.15">+</text>
<text x="390.12" y="325.8" font-size="8.8" text-anchor="middle" fill="#231f20" stroke="#231f20" stroke-width="0.15">-</text>
<text x="409.52" y="325.8" font-size="8.8" text-anchor="middle" fill="#231f20" stroke="#231f20" stroke-width="0.15">+</text>
<line x1="383.52" y1="328.5" x2="416.72" y2="328.5" stroke="#231f20" stroke-width="1"/>
<text x="399.62" y="337.4" font-size="8.6" text-anchor="middle" fill="#231f20" textLength="22.87" lengthAdjust="spacingAndGlyphs" stroke="#231f20" stroke-width="0.15">Dusp2</text>
<rect x="428.78" y="239" width="6.4" height="56.6" fill="#a3293d"/>
<line x1="431.5" y1="235.6" x2="431.5" y2="239.5" stroke="#231f20" stroke-width="1"/>
<rect x="438.08" y="289.37" width="6.4" height="6.23" fill="#4a6791"/>
<rect x="447.38" y="253.15" width="6.4" height="42.45" fill="#a3293d"/>
<line x1="450.5" y1="252.02" x2="450.5" y2="253.65" stroke="#231f20" stroke-width="1"/>
<rect x="456.58" y="291.64" width="6.4" height="3.96" fill="#4a6791"/>
<line x1="430.78" y1="230.5" x2="442.38" y2="230.5" stroke="#231f20" stroke-width="1"/>
<text x="436.58" y="230.4" font-size="8.6" text-anchor="middle" fill="#231f20" textLength="10.2" lengthAdjust="spacingAndGlyphs" stroke="#231f20" stroke-width="0.15">***</text>
<line x1="449.38" y1="247.5" x2="460.98" y2="247.5" stroke="#231f20" stroke-width="1"/>
<text x="455.18" y="246.7" font-size="8.6" text-anchor="middle" fill="#231f20" textLength="10.2" lengthAdjust="spacingAndGlyphs" stroke="#231f20" stroke-width="0.15">***</text>
<line x1="429.78" y1="300.5" x2="443.98" y2="300.5" stroke="#231f20" stroke-width="1"/>
<line x1="448.68" y1="300.5" x2="463.38" y2="300.5" stroke="#231f20" stroke-width="1"/>
<text x="436.68" y="312.6" font-size="8.8" text-anchor="middle" fill="#231f20" stroke="#231f20" stroke-width="0.15">+</text>
<text x="456.08" y="312.6" font-size="8.8" text-anchor="middle" fill="#231f20" stroke="#231f20" stroke-width="0.15">+</text>
<text x="436.68" y="325.8" font-size="8.8" text-anchor="middle" fill="#231f20" stroke="#231f20" stroke-width="0.15">-</text>
<text x="456.08" y="325.8" font-size="8.8" text-anchor="middle" fill="#231f20" stroke="#231f20" stroke-width="0.15">+</text>
<line x1="430.08" y1="328.5" x2="463.28" y2="328.5" stroke="#231f20" stroke-width="1"/>
<text x="446.18" y="337.4" font-size="8.6" text-anchor="middle" fill="#231f20" textLength="13.63" lengthAdjust="spacingAndGlyphs" stroke="#231f20" stroke-width="0.15">Klf2</text>
<line x1="55.5" y1="213.5" x2="55.5" y2="296.1" stroke="#231f20" stroke-width="1.1"/>
<line x1="55" y1="295.5" x2="471.5" y2="295.5" stroke="#231f20" stroke-width="1.2"/>
<line x1="52.3" y1="295.5" x2="55.5" y2="295.5" stroke="#231f20" stroke-width="1"/>
<text x="48.6" y="298.4" font-size="8" text-anchor="end" fill="#231f20" textLength="11.2" lengthAdjust="spacingAndGlyphs" stroke="#231f20" stroke-width="0.15">0.0</text>
<line x1="52.3" y1="284.5" x2="55.5" y2="284.5" stroke="#231f20" stroke-width="1"/>
<text x="48.6" y="287.08" font-size="8" text-anchor="end" fill="#231f20" textLength="11.2" lengthAdjust="spacingAndGlyphs" stroke="#231f20" stroke-width="0.15">0.2</text>
<line x1="52.3" y1="272.5" x2="55.5" y2="272.5" stroke="#231f20" stroke-width="1"/>
<text x="48.6" y="275.76" font-size="8" text-anchor="end" fill="#231f20" textLength="11.2" lengthAdjust="spacingAndGlyphs" stroke="#231f20" stroke-width="0.15">0.4</text>
<line x1="52.3" y1="261.5" x2="55.5" y2="261.5" stroke="#231f20" stroke-width="1"/>
<text x="48.6" y="264.44" font-size="8" text-anchor="end" fill="#231f20" textLength="11.2" lengthAdjust="spacingAndGlyphs" stroke="#231f20" stroke-width="0.15">0.6</text>
<line x1="52.3" y1="250.5" x2="55.5" y2="250.5" stroke="#231f20" stroke-width="1"/>
<text x="48.6" y="253.12" font-size="8" text-anchor="end" fill="#231f20" textLength="11.2" lengthAdjust="spacingAndGlyphs" stroke="#231f20" stroke-width="0.15">0.8</text>
<line x1="52.3" y1="239.5" x2="55.5" y2="239.5" stroke="#231f20" stroke-width="1"/>
<text x="48.6" y="241.8" font-size="8" text-anchor="end" fill="#231f20" textLength="11.2" lengthAdjust="spacingAndGlyphs" stroke="#231f20" stroke-width="0.15">1.0</text>
<line x1="52.3" y1="227.5" x2="55.5" y2="227.5" stroke="#231f20" stroke-width="1"/>
<text x="48.6" y="230.48" font-size="8" text-anchor="end" fill="#231f20" textLength="11.2" lengthAdjust="spacingAndGlyphs" stroke="#231f20" stroke-width="0.15">1.2</text>
<line x1="52.3" y1="216.5" x2="55.5" y2="216.5" stroke="#231f20" stroke-width="1"/>
<text x="48.6" y="219.16" font-size="8" text-anchor="end" fill="#231f20" textLength="11.2" lengthAdjust="spacingAndGlyphs" stroke="#231f20" stroke-width="0.15">1.4</text>
<text transform="translate(28.8,254) rotate(-90)" font-size="10" text-anchor="middle" fill="#231f20" textLength="87" lengthAdjust="spacingAndGlyphs" stroke="#231f20" stroke-width="0.15">Relative expression</text>
<text x="48.5" y="311.9" font-size="8.6" text-anchor="end" fill="#231f20" textLength="25.4" lengthAdjust="spacingAndGlyphs" stroke="#231f20" stroke-width="0.15">CD150</text>
<text x="48.5" y="325" font-size="8.6" text-anchor="end" fill="#231f20" textLength="20.8" lengthAdjust="spacingAndGlyphs" stroke="#231f20" stroke-width="0.15">CD34</text>
<rect x="371.5" y="196.7" width="8.6" height="8.3" fill="#a3293d"/>
<text x="383" y="204" font-size="9.2" text-anchor="start" fill="#231f20" textLength="10.2" lengthAdjust="spacingAndGlyphs" stroke="#231f20" stroke-width="0.15">VC</text>
<rect x="406.2" y="196.7" width="8.2" height="8.3" fill="#4a6791"/>
<text x="417.7" y="204" font-size="9.2" text-anchor="start" fill="#231f20" textLength="27.8" lengthAdjust="spacingAndGlyphs" stroke="#231f20" stroke-width="0.15">VC;Phf6</text>
<text x="448.8" y="199.8" font-size="6" text-anchor="start" fill="#2a2627" textLength="8.9" lengthAdjust="spacingAndGlyphs" style="font-style:italic">&#916;/y</text>
<defs><linearGradient id="gR"><stop offset="0" stop-color="#d8363f"/><stop offset="0.7" stop-color="#e04c55"/><stop offset="1" stop-color="#e96670"/></linearGradient><linearGradient id="gP"><stop offset="0" stop-color="#eea2c6"/><stop offset="1" stop-color="#f2bcd6"/></linearGradient><linearGradient id="gL"><stop offset="0" stop-color="#e2d8ec"/><stop offset="1" stop-color="#c9bde0"/></linearGradient><linearGradient id="gU"><stop offset="0" stop-color="#7a6cb6"/><stop offset="1" stop-color="#46389a"/></linearGradient></defs>
<rect x="56.5" y="385" width="118.5" height="74" fill="#ffffff"/>
<line x1="68.5" y1="386" x2="68.5" y2="436.7" stroke="#f3f3f3" stroke-width="0.8"/>
<line x1="81.5" y1="386" x2="81.5" y2="436.7" stroke="#f3f3f3" stroke-width="0.8"/>
<line x1="93.5" y1="386" x2="93.5" y2="436.7" stroke="#f3f3f3" stroke-width="0.8"/>
<line x1="105.5" y1="386" x2="105.5" y2="436.7" stroke="#f3f3f3" stroke-width="0.8"/>
<line x1="117.5" y1="386" x2="117.5" y2="436.7" stroke="#f3f3f3" stroke-width="0.8"/>
<line x1="130.5" y1="386" x2="130.5" y2="436.7" stroke="#f3f3f3" stroke-width="0.8"/>
<line x1="142.5" y1="386" x2="142.5" y2="436.7" stroke="#f3f3f3" stroke-width="0.8"/>
<line x1="154.5" y1="386" x2="154.5" y2="436.7" stroke="#f3f3f3" stroke-width="0.8"/>
<line x1="167.5" y1="386" x2="167.5" y2="436.7" stroke="#f3f3f3" stroke-width="0.8"/>
<line x1="57.5" y1="427.5" x2="173.5" y2="427.5" stroke="#f3f3f3" stroke-width="0.8"/>
<line x1="57.5" y1="420.5" x2="173.5" y2="420.5" stroke="#f3f3f3" stroke-width="0.8"/>
<line x1="57.5" y1="413.5" x2="173.5" y2="413.5" stroke="#f3f3f3" stroke-width="0.8"/>
<line x1="57.5" y1="406.5" x2="173.5" y2="406.5" stroke="#f3f3f3" stroke-width="0.8"/>
<line x1="57.5" y1="399.5" x2="173.5" y2="399.5" stroke="#f3f3f3" stroke-width="0.8"/>
<line x1="57.5" y1="392.5" x2="173.5" y2="392.5" stroke="#f3f3f3" stroke-width="0.8"/>
<line x1="57.5" y1="385.5" x2="173.5" y2="385.5" stroke="#f3f3f3" stroke-width="0.8"/>
<line x1="57.5" y1="434.5" x2="173.5" y2="434.5" stroke="#dcd6d6" stroke-width="1"/>
<line x1="57.5" y1="437.5" x2="173.5" y2="437.5" stroke="#dedede" stroke-width="0.9"/>
<rect x="57" y="437.7" width="31.2" height="16.8" fill="#8c8c8c"/>
<rect x="90.8" y="437.7" width="12.2" height="16.8" fill="#8c8c8c"/>
<rect x="57" y="437.7" width="1.2" height="16.8" fill="#606060"/>
<rect x="58.2" y="437.7" width="8.3" height="16.8" fill="#222320"/>
<rect x="66.5" y="437.7" width="1.5" height="16.8" fill="#aaaaaa"/>
<rect x="68" y="437.7" width="5.5" height="16.8" fill="#222320"/>
<rect x="73.5" y="437.7" width="1.1" height="16.8" fill="#aaaaaa"/>
<rect x="74.6" y="437.7" width="0.9" height="16.8" fill="#222320"/>
<rect x="75.5" y="437.7" width="1.5" height="16.8" fill="#bbbbbb"/>
<rect x="77" y="437.7" width="1" height="16.8" fill="#888888"/>
<rect x="78" y="437.7" width="3.5" height="16.8" fill="#222320"/>
<rect x="81.5" y="437.7" width="1.2" height="16.8" fill="#888888"/>
<rect x="82.7" y="437.7" width="2.3" height="16.8" fill="#777777"/>
<rect x="85" y="437.7" width="1.7" height="16.8" fill="#888888"/>
<rect x="86.7" y="437.7" width="1.5" height="16.8" fill="#555555"/>
<rect x="90.8" y="437.7" width="2" height="16.8" fill="#555555"/>
<rect x="92.8" y="437.7" width="1.4" height="16.8" fill="#bbbbbb"/>
<rect x="94.2" y="437.7" width="0.9" height="16.8" fill="#888888"/>
<rect x="95.1" y="437.7" width="2.9" height="16.8" fill="#cccccc"/>
<rect x="98" y="437.7" width="2.3" height="16.8" fill="#666666"/>
<rect x="100.3" y="437.7" width="2.6" height="16.8" fill="#999999"/>
<rect x="134.2" y="437.7" width="2.3" height="16.8" fill="#333333"/>
<rect x="137.8" y="437.7" width="1" height="16.8" fill="#777777"/>
<rect x="143.4" y="437.7" width="0.9" height="16.8" fill="#aaaaaa"/>
<rect x="145.2" y="437.7" width="1" height="16.8" fill="#999999"/>
<rect x="150.3" y="437.7" width="1.9" height="16.8" fill="#777777"/>
<rect x="153.5" y="437.7" width="1" height="16.8" fill="#bbbbbb"/>
<rect x="157.2" y="437.7" width="1.4" height="16.8" fill="#cccccc"/>
<rect x="57.2" y="454.8" width="36.6" height="3.5" fill="url(#gR)"/>
<rect x="93.8" y="454.8" width="36.2" height="3.5" fill="url(#gP)"/>
<rect x="130" y="454.8" width="23" height="3.5" fill="url(#gL)"/>
<rect x="153" y="454.8" width="15.8" height="3.5" fill="url(#gU)"/>
<polyline points="56.7,435.3 57.15,434.17 57.77,432.66 58.5,430.84 59.29,428.81 60.08,426.67 60.8,424.5 61.49,422.12 62.2,419.43 62.91,416.61 63.6,413.89 64.23,411.45 64.8,409.5 65.28,408.13 65.69,407.2 66.06,406.55 66.4,406.05 66.74,405.55 67.1,404.9 67.47,404.17 67.82,403.47 68.17,402.78 68.54,402.05 68.95,401.23 69.4,400.3 69.92,399.16 70.5,397.82 71.11,396.41 71.73,395.02 72.34,393.78 72.9,392.8 73.39,392.12 73.81,391.68 74.21,391.38 74.65,391.13 75.16,390.87 75.8,390.5 76.59,389.99 77.49,389.4 78.47,388.79 79.49,388.22 80.51,387.73 81.5,387.4 82.5,387.23 83.56,387.2 84.61,387.25 85.62,387.36 86.53,387.49 87.3,387.6 87.78,387.64 87.99,387.64 88.09,387.65 88.28,387.75 88.72,388.01 89.6,388.5 90.96,389.25 92.66,390.21 94.62,391.34 96.75,392.56 98.94,393.84 101.1,395.1 103.26,396.38 105.49,397.73 107.78,399.13 110.14,400.56 112.55,401.99 115,403.4 117.58,404.81 120.31,406.25 123.1,407.69 125.84,409.12 128.44,410.53 130.8,411.9 132.86,413.24 134.69,414.56 136.37,415.85 138,417.12 139.68,418.37 141.5,419.6 143.43,420.78 145.38,421.91 147.38,423.02 149.44,424.14 151.58,425.29 153.8,426.5 156.32,427.87 159.16,429.41 162.07,430.98 164.81,432.46 167.14,433.7 168.8,434.6" fill="none" stroke="#5fb343" stroke-width="1.4" stroke-linejoin="round" stroke-linecap="round"/>
<rect x="56.5" y="385" width="118.5" height="74" fill="none" stroke="#2a2a2a" stroke-width="1.4"/>
<line x1="53.1" y1="427.5" x2="56.5" y2="427.5" stroke="#231f20" stroke-width="1"/>
<text x="48.7" y="429.97" font-size="7" text-anchor="end" fill="#231f20" textLength="8.17" lengthAdjust="spacingAndGlyphs" stroke="#231f20" stroke-width="0.15">0.1</text>
<line x1="53.1" y1="420.5" x2="56.5" y2="420.5" stroke="#231f20" stroke-width="1"/>
<text x="48.7" y="423.04" font-size="7" text-anchor="end" fill="#231f20" textLength="8.17" lengthAdjust="spacingAndGlyphs" stroke="#231f20" stroke-width="0.15">0.2</text>
<line x1="53.1" y1="413.5" x2="56.5" y2="413.5" stroke="#231f20" stroke-width="1"/>
<text x="48.7" y="416.11" font-size="7" text-anchor="end" fill="#231f20" textLength="8.17" lengthAdjust="spacingAndGlyphs" stroke="#231f20" stroke-width="0.15">0.3</text>
<line x1="53.1" y1="406.5" x2="56.5" y2="406.5" stroke="#231f20" stroke-width="1"/>
<text x="48.7" y="409.18" font-size="7" text-anchor="end" fill="#231f20" textLength="8.17" lengthAdjust="spacingAndGlyphs" stroke="#231f20" stroke-width="0.15">0.4</text>
<line x1="53.1" y1="399.5" x2="56.5" y2="399.5" stroke="#231f20" stroke-width="1"/>
<text x="48.7" y="402.25" font-size="7" text-anchor="end" fill="#231f20" textLength="8.17" lengthAdjust="spacingAndGlyphs" stroke="#231f20" stroke-width="0.15">0.5</text>
<line x1="53.1" y1="392.5" x2="56.5" y2="392.5" stroke="#231f20" stroke-width="1"/>
<text x="48.7" y="395.32" font-size="7" text-anchor="end" fill="#231f20" textLength="8.17" lengthAdjust="spacingAndGlyphs" stroke="#231f20" stroke-width="0.15">0.6</text>
<line x1="53.1" y1="385.5" x2="56.5" y2="385.5" stroke="#231f20" stroke-width="1"/>
<text x="48.7" y="388.39" font-size="7" text-anchor="end" fill="#231f20" textLength="8.17" lengthAdjust="spacingAndGlyphs" stroke="#231f20" stroke-width="0.15">0.7</text>
<text x="137.7" y="395.8" font-size="7.8" text-anchor="start" fill="#231f20" textLength="25.91" lengthAdjust="spacingAndGlyphs" stroke="#231f20" stroke-width="0.15">NES&#160; 2.4</text>
<text x="137.7" y="404.55" font-size="7.8" text-anchor="start" fill="#231f20" textLength="25.9" lengthAdjust="spacingAndGlyphs" stroke="#231f20" stroke-width="0.15">NOM 0.0</text>
<text x="137.7" y="413.3" font-size="7.8" text-anchor="start" fill="#231f20" textLength="25.9" lengthAdjust="spacingAndGlyphs" stroke="#231f20" stroke-width="0.15">FDR&#160; 0.0</text>
<text x="115" y="368.1" font-size="9.5" text-anchor="middle" fill="#231f20" textLength="64" lengthAdjust="spacingAndGlyphs" stroke="#231f20" stroke-width="0.15">HALLMARK_MYC</text>
<text x="115.1" y="379.9" font-size="9.5" text-anchor="middle" fill="#231f20" textLength="51.4" lengthAdjust="spacingAndGlyphs" stroke="#231f20" stroke-width="0.15">_TARGETS_V1</text>
<rect x="210.1" y="384.8" width="117.5" height="74.3" fill="#ffffff"/>
<line x1="222.5" y1="385.8" x2="222.5" y2="436.8" stroke="#f3f3f3" stroke-width="0.8"/>
<line x1="234.5" y1="385.8" x2="234.5" y2="436.8" stroke="#f3f3f3" stroke-width="0.8"/>
<line x1="247.5" y1="385.8" x2="247.5" y2="436.8" stroke="#f3f3f3" stroke-width="0.8"/>
<line x1="259.5" y1="385.8" x2="259.5" y2="436.8" stroke="#f3f3f3" stroke-width="0.8"/>
<line x1="271.5" y1="385.8" x2="271.5" y2="436.8" stroke="#f3f3f3" stroke-width="0.8"/>
<line x1="283.5" y1="385.8" x2="283.5" y2="436.8" stroke="#f3f3f3" stroke-width="0.8"/>
<line x1="296.5" y1="385.8" x2="296.5" y2="436.8" stroke="#f3f3f3" stroke-width="0.8"/>
<line x1="308.5" y1="385.8" x2="308.5" y2="436.8" stroke="#f3f3f3" stroke-width="0.8"/>
<line x1="320.5" y1="385.8" x2="320.5" y2="436.8" stroke="#f3f3f3" stroke-width="0.8"/>
<line x1="211.1" y1="426.5" x2="326.1" y2="426.5" stroke="#f3f3f3" stroke-width="0.8"/>
<line x1="211.1" y1="419.5" x2="326.1" y2="419.5" stroke="#f3f3f3" stroke-width="0.8"/>
<line x1="211.1" y1="412.5" x2="326.1" y2="412.5" stroke="#f3f3f3" stroke-width="0.8"/>
<line x1="211.1" y1="404.5" x2="326.1" y2="404.5" stroke="#f3f3f3" stroke-width="0.8"/>
<line x1="211.1" y1="397.5" x2="326.1" y2="397.5" stroke="#f3f3f3" stroke-width="0.8"/>
<line x1="211.1" y1="390.5" x2="326.1" y2="390.5" stroke="#f3f3f3" stroke-width="0.8"/>
<line x1="211.1" y1="434.5" x2="326.1" y2="434.5" stroke="#dcd6d6" stroke-width="1"/>
<line x1="211.1" y1="437.5" x2="326.1" y2="437.5" stroke="#dedede" stroke-width="0.9"/>
<rect x="210.8" y="437.8" width="45.2" height="16.8" fill="#8c8c8c"/>
<rect x="210.8" y="437.8" width="2.4" height="16.8" fill="#888888"/>
<rect x="213.2" y="437.8" width="1.7" height="16.8" fill="#555555"/>
<rect x="214.9" y="437.8" width="1.8" height="16.8" fill="#777777"/>
<rect x="216.7" y="437.8" width="2.3" height="16.8" fill="#333333"/>
<rect x="219" y="437.8" width="2.3" height="16.8" fill="#666666"/>
<rect x="221.3" y="437.8" width="2.8" height="16.8" fill="#222320"/>
<rect x="224.1" y="437.8" width="1.2" height="16.8" fill="#888888"/>
<rect x="225.3" y="437.8" width="2.9" height="16.8" fill="#777777"/>
<rect x="228.2" y="437.8" width="5.8" height="16.8" fill="#222320"/>
<rect x="234" y="437.8" width="1.1" height="16.8" fill="#777777"/>
<rect x="235.1" y="437.8" width="7.5" height="16.8" fill="#444444"/>
<rect x="242.6" y="437.8" width="2.4" height="16.8" fill="#888888"/>
<rect x="245" y="437.8" width="2.8" height="16.8" fill="#333333"/>
<rect x="247.8" y="437.8" width="2.3" height="16.8" fill="#bbbbbb"/>
<rect x="250.1" y="437.8" width="1.7" height="16.8" fill="#888888"/>
<rect x="251.8" y="437.8" width="2.3" height="16.8" fill="#cccccc"/>
<rect x="254.1" y="437.8" width="1.8" height="16.8" fill="#444444"/>
<rect x="283" y="437.8" width="1.1" height="16.8" fill="#555555"/>
<rect x="285.3" y="437.8" width="0.9" height="16.8" fill="#888888"/>
<rect x="287" y="437.8" width="1.8" height="16.8" fill="#777777"/>
<rect x="290.5" y="437.8" width="1.7" height="16.8" fill="#777777"/>
<rect x="294" y="437.8" width="2.8" height="16.8" fill="#999999"/>
<rect x="298.6" y="437.8" width="1.1" height="16.8" fill="#888888"/>
<rect x="300.9" y="437.8" width="1.1" height="16.8" fill="#777777"/>
<rect x="304.9" y="437.8" width="1.1" height="16.8" fill="#bbbbbb"/>
<rect x="311.8" y="437.8" width="1.2" height="16.8" fill="#999999"/>
<rect x="314.7" y="437.8" width="1.2" height="16.8" fill="#555555"/>
<rect x="210.8" y="454.9" width="36.4" height="3.5" fill="url(#gR)"/>
<rect x="247.2" y="454.9" width="35.8" height="3.5" fill="url(#gP)"/>
<rect x="283" y="454.9" width="23.6" height="3.5" fill="url(#gL)"/>
<rect x="306.6" y="454.9" width="15" height="3.5" fill="url(#gU)"/>
<polyline points="210.5,434.5 210.84,433.77 211.3,432.81 211.85,431.64 212.47,430.29 213.12,428.77 213.8,427.1 214.51,425.16 215.29,422.92 216.11,420.51 216.95,418.07 217.79,415.72 218.6,413.6 219.4,411.71 220.2,409.94 221,408.26 221.79,406.66 222.56,405.12 223.3,403.6 223.98,402.13 224.61,400.73 225.21,399.39 225.84,398.08 226.52,396.79 227.3,395.5 228.21,394.15 229.23,392.73 230.31,391.34 231.39,390.04 232.44,388.94 233.4,388.1 234.25,387.58 235.02,387.31 235.76,387.23 236.49,387.27 237.26,387.35 238.1,387.4 239.01,387.42 239.95,387.45 240.93,387.52 241.95,387.67 243,387.92 244.1,388.3 245.18,388.8 246.24,389.4 247.33,390.11 248.53,390.91 249.9,391.81 251.5,392.8 253.41,393.94 255.59,395.23 257.93,396.62 260.35,398.06 262.74,399.47 265,400.8 267.14,402.04 269.24,403.23 271.31,404.4 273.37,405.58 275.43,406.8 277.5,408.1 279.58,409.51 281.67,411.02 283.75,412.57 285.83,414.1 287.92,415.57 290,416.9 292.11,418.08 294.26,419.16 296.41,420.16 298.52,421.12 300.56,422.09 302.5,423.1 304.4,424.21 306.3,425.4 308.12,426.6 309.81,427.72 311.3,428.68 312.5,429.4 313.36,429.84 313.93,430.04 314.29,430.09 314.53,430.06 314.74,430 315,430 315.23,429.98 315.34,429.88 315.42,429.76 315.55,429.7 315.81,429.75 316.3,430 317.12,430.53 318.23,431.3 319.48,432.2 320.71,433.1 321.77,433.87 322.5,434.4" fill="none" stroke="#5fb343" stroke-width="1.4" stroke-linejoin="round" stroke-linecap="round"/>
<rect x="210.1" y="384.8" width="117.5" height="74.3" fill="none" stroke="#2a2a2a" stroke-width="1.4"/>
<line x1="206.7" y1="426.5" x2="210.1" y2="426.5" stroke="#231f20" stroke-width="1"/>
<text x="202.3" y="429.22" font-size="7" text-anchor="end" fill="#231f20" textLength="8.17" lengthAdjust="spacingAndGlyphs" stroke="#231f20" stroke-width="0.15">0.1</text>
<line x1="206.7" y1="419.5" x2="210.1" y2="419.5" stroke="#231f20" stroke-width="1"/>
<text x="202.3" y="421.94" font-size="7" text-anchor="end" fill="#231f20" textLength="8.17" lengthAdjust="spacingAndGlyphs" stroke="#231f20" stroke-width="0.15">0.2</text>
<line x1="206.7" y1="412.5" x2="210.1" y2="412.5" stroke="#231f20" stroke-width="1"/>
<text x="202.3" y="414.66" font-size="7" text-anchor="end" fill="#231f20" textLength="8.17" lengthAdjust="spacingAndGlyphs" stroke="#231f20" stroke-width="0.15">0.3</text>
<line x1="206.7" y1="404.5" x2="210.1" y2="404.5" stroke="#231f20" stroke-width="1"/>
<text x="202.3" y="407.38" font-size="7" text-anchor="end" fill="#231f20" textLength="8.17" lengthAdjust="spacingAndGlyphs" stroke="#231f20" stroke-width="0.15">0.4</text>
<line x1="206.7" y1="397.5" x2="210.1" y2="397.5" stroke="#231f20" stroke-width="1"/>
<text x="202.3" y="400.1" font-size="7" text-anchor="end" fill="#231f20" textLength="8.17" lengthAdjust="spacingAndGlyphs" stroke="#231f20" stroke-width="0.15">0.5</text>
<line x1="206.7" y1="390.5" x2="210.1" y2="390.5" stroke="#231f20" stroke-width="1"/>
<text x="202.3" y="392.82" font-size="7" text-anchor="end" fill="#231f20" textLength="8.17" lengthAdjust="spacingAndGlyphs" stroke="#231f20" stroke-width="0.15">0.6</text>
<text x="291" y="395.6" font-size="7.8" text-anchor="start" fill="#231f20" textLength="25.91" lengthAdjust="spacingAndGlyphs" stroke="#231f20" stroke-width="0.15">NES&#160; 2.2</text>
<text x="291" y="404.35" font-size="7.8" text-anchor="start" fill="#231f20" textLength="25.9" lengthAdjust="spacingAndGlyphs" stroke="#231f20" stroke-width="0.15">NOM 0.0</text>
<text x="291" y="413.1" font-size="7.8" text-anchor="start" fill="#231f20" textLength="25.9" lengthAdjust="spacingAndGlyphs" stroke="#231f20" stroke-width="0.15">FDR&#160; 0.0</text>
<text x="268.8" y="378.9" font-size="9.5" text-anchor="middle" fill="#231f20" textLength="99.3" lengthAdjust="spacingAndGlyphs" stroke="#231f20" stroke-width="0.15">HALLMARK_E2F_TARGETS</text>
<rect x="359.8" y="385.1" width="117.8" height="74" fill="#ffffff"/>
<line x1="372.5" y1="386.1" x2="372.5" y2="436.8" stroke="#f3f3f3" stroke-width="0.8"/>
<line x1="384.5" y1="386.1" x2="384.5" y2="436.8" stroke="#f3f3f3" stroke-width="0.8"/>
<line x1="396.5" y1="386.1" x2="396.5" y2="436.8" stroke="#f3f3f3" stroke-width="0.8"/>
<line x1="409.5" y1="386.1" x2="409.5" y2="436.8" stroke="#f3f3f3" stroke-width="0.8"/>
<line x1="421.5" y1="386.1" x2="421.5" y2="436.8" stroke="#f3f3f3" stroke-width="0.8"/>
<line x1="433.5" y1="386.1" x2="433.5" y2="436.8" stroke="#f3f3f3" stroke-width="0.8"/>
<line x1="445.5" y1="386.1" x2="445.5" y2="436.8" stroke="#f3f3f3" stroke-width="0.8"/>
<line x1="458.5" y1="386.1" x2="458.5" y2="436.8" stroke="#f3f3f3" stroke-width="0.8"/>
<line x1="470.5" y1="386.1" x2="470.5" y2="436.8" stroke="#f3f3f3" stroke-width="0.8"/>
<line x1="360.8" y1="434.5" x2="476.1" y2="434.5" stroke="#f3f3f3" stroke-width="0.8"/>
<line x1="360.8" y1="418.5" x2="476.1" y2="418.5" stroke="#f3f3f3" stroke-width="0.8"/>
<line x1="360.8" y1="410.5" x2="476.1" y2="410.5" stroke="#f3f3f3" stroke-width="0.8"/>
<line x1="360.8" y1="401.5" x2="476.1" y2="401.5" stroke="#f3f3f3" stroke-width="0.8"/>
<line x1="360.8" y1="393.5" x2="476.1" y2="393.5" stroke="#f3f3f3" stroke-width="0.8"/>
<line x1="360.8" y1="385.5" x2="476.1" y2="385.5" stroke="#f3f3f3" stroke-width="0.8"/>
<line x1="360.8" y1="426.5" x2="476.1" y2="426.5" stroke="#dcd6d6" stroke-width="1"/>
<line x1="360.8" y1="437.5" x2="476.1" y2="437.5" stroke="#dedede" stroke-width="0.9"/>
<rect x="362" y="437.8" width="30.6" height="16.8" fill="#8c8c8c"/>
<rect x="393.8" y="437.8" width="10.9" height="16.8" fill="#8c8c8c"/>
<rect x="362" y="437.8" width="2.3" height="16.8" fill="#444444"/>
<rect x="364.3" y="437.8" width="1.2" height="16.8" fill="#aaaaaa"/>
<rect x="365.5" y="437.8" width="4" height="16.8" fill="#444444"/>
<rect x="369.5" y="437.8" width="2.3" height="16.8" fill="#666666"/>
<rect x="371.8" y="437.8" width="3.5" height="16.8" fill="#777777"/>
<rect x="375.3" y="437.8" width="3.5" height="16.8" fill="#888888"/>
<rect x="378.8" y="437.8" width="2.2" height="16.8" fill="#333333"/>
<rect x="381" y="437.8" width="1.8" height="16.8" fill="#bbbbbb"/>
<rect x="382.8" y="437.8" width="5.2" height="16.8" fill="#333333"/>
<rect x="388" y="437.8" width="2.5" height="16.8" fill="#aaaaaa"/>
<rect x="390.5" y="437.8" width="2.1" height="16.8" fill="#cccccc"/>
<rect x="393.8" y="437.8" width="3.4" height="16.8" fill="#888888"/>
<rect x="397.2" y="437.8" width="2.3" height="16.8" fill="#cccccc"/>
<rect x="399.5" y="437.8" width="2.9" height="16.8" fill="#555555"/>
<rect x="403.6" y="437.8" width="1.1" height="16.8" fill="#777777"/>
<rect x="433.6" y="437.8" width="1.7" height="16.8" fill="#777777"/>
<rect x="435.3" y="437.8" width="1.7" height="16.8" fill="#444444"/>
<rect x="437.6" y="437.8" width="3.4" height="16.8" fill="#888888"/>
<rect x="441" y="437.8" width="1.2" height="16.8" fill="#555555"/>
<rect x="444.5" y="437.8" width="1.8" height="16.8" fill="#333333"/>
<rect x="446.3" y="437.8" width="1.7" height="16.8" fill="#999999"/>
<rect x="450.3" y="437.8" width="1.1" height="16.8" fill="#bbbbbb"/>
<rect x="454.9" y="437.8" width="1.2" height="16.8" fill="#555555"/>
<rect x="457.8" y="437.8" width="4" height="16.8" fill="#999999"/>
<rect x="464.1" y="437.8" width="1.8" height="16.8" fill="#aaaaaa"/>
<rect x="468.2" y="437.8" width="1.1" height="16.8" fill="#444444"/>
<rect x="469.9" y="437.8" width="1.7" height="16.8" fill="#aaaaaa"/>
<rect x="360.5" y="454.9" width="36.7" height="3.5" fill="url(#gR)"/>
<rect x="397.2" y="454.9" width="35.8" height="3.5" fill="url(#gP)"/>
<rect x="433" y="454.9" width="23.3" height="3.5" fill="url(#gL)"/>
<rect x="456.3" y="454.9" width="15.9" height="3.5" fill="url(#gU)"/>
<polyline points="360.2,426.8 360.41,426.87 360.69,427.02 361.03,427.18 361.41,427.24 361.8,427.15 362.2,426.8 362.62,426.12 363.07,425.15 363.55,424.01 364.03,422.83 364.48,421.72 364.9,420.8 365.27,420.15 365.62,419.67 365.94,419.27 366.26,418.84 366.57,418.25 366.9,417.4 367.23,416.24 367.54,414.84 367.86,413.29 368.18,411.67 368.53,410.08 368.9,408.6 369.31,407.18 369.75,405.73 370.21,404.31 370.67,402.95 371.14,401.7 371.6,400.6 372.04,399.7 372.47,398.97 372.91,398.34 373.35,397.77 373.81,397.17 374.3,396.5 374.83,395.72 375.41,394.88 376,394.02 376.59,393.19 377.17,392.43 377.7,391.8 378.19,391.3 378.65,390.91 379.09,390.59 379.53,390.31 379.96,390.06 380.4,389.8 380.83,389.54 381.25,389.3 381.67,389.09 382.1,388.89 382.57,388.69 383.1,388.5 383.69,388.29 384.34,388.05 385.02,387.82 385.72,387.63 386.42,387.51 387.1,387.5 387.73,387.6 388.33,387.77 388.93,388.02 389.56,388.34 390.27,388.7 391.1,389.1 392.01,389.51 392.96,389.93 393.99,390.4 395.14,390.96 396.43,391.65 397.9,392.5 399.57,393.55 401.42,394.79 403.41,396.14 405.53,397.58 407.73,399.05 410,400.5 412.38,401.94 414.89,403.42 417.49,404.93 420.14,406.46 422.8,408.02 425.4,409.6 427.97,411.21 430.53,412.84 433.1,414.49 435.67,416.17 438.23,417.88 440.8,419.6 443.51,421.46 446.39,423.5 449.28,425.55 451.99,427.48 454.35,429.15 456.2,430.4 457.43,431.18 458.17,431.59 458.56,431.73 458.76,431.71 458.92,431.63 459.2,431.6 459.53,431.54 459.79,431.35 460,431.1 460.21,430.86 460.47,430.71 460.8,430.7 461.21,430.87 461.66,431.17 462.16,431.55 462.68,431.96 463.23,432.36 463.8,432.7 464.42,433.01 465.09,433.35 465.79,433.67 466.49,433.94 467.13,434.13 467.7,434.2 468.19,434.14 468.61,433.98 469,433.74 469.35,433.43 469.68,433.08 470,432.7 470.3,432.28 470.59,431.79 470.84,431.25 471.08,430.69 471.3,430.14 471.5,429.6 471.68,429.05 471.85,428.45 471.99,427.86 472.12,427.3 472.22,426.84 472.3,426.5" fill="none" stroke="#5fb343" stroke-width="1.4" stroke-linejoin="round" stroke-linecap="round"/>
<rect x="359.8" y="385.1" width="117.8" height="74" fill="none" stroke="#2a2a2a" stroke-width="1.4"/>
<line x1="356.4" y1="434.5" x2="359.8" y2="434.5" stroke="#231f20" stroke-width="1"/>
<text x="352" y="437.1" font-size="7" text-anchor="end" fill="#231f20" textLength="10.13" lengthAdjust="spacingAndGlyphs" stroke="#231f20" stroke-width="0.15">-0.1</text>
<line x1="356.4" y1="426.5" x2="359.8" y2="426.5" stroke="#231f20" stroke-width="1"/>
<text x="352" y="428.9" font-size="7" text-anchor="end" fill="#231f20" textLength="8.17" lengthAdjust="spacingAndGlyphs" stroke="#231f20" stroke-width="0.15">0.0</text>
<line x1="356.4" y1="418.5" x2="359.8" y2="418.5" stroke="#231f20" stroke-width="1"/>
<text x="352" y="420.7" font-size="7" text-anchor="end" fill="#231f20" textLength="8.17" lengthAdjust="spacingAndGlyphs" stroke="#231f20" stroke-width="0.15">0.1</text>
<line x1="356.4" y1="410.5" x2="359.8" y2="410.5" stroke="#231f20" stroke-width="1"/>
<text x="352" y="412.5" font-size="7" text-anchor="end" fill="#231f20" textLength="8.17" lengthAdjust="spacingAndGlyphs" stroke="#231f20" stroke-width="0.15">0.2</text>
<line x1="356.4" y1="401.5" x2="359.8" y2="401.5" stroke="#231f20" stroke-width="1"/>
<text x="352" y="404.3" font-size="7" text-anchor="end" fill="#231f20" textLength="8.17" lengthAdjust="spacingAndGlyphs" stroke="#231f20" stroke-width="0.15">0.3</text>
<line x1="356.4" y1="393.5" x2="359.8" y2="393.5" stroke="#231f20" stroke-width="1"/>
<text x="352" y="396.1" font-size="7" text-anchor="end" fill="#231f20" textLength="8.17" lengthAdjust="spacingAndGlyphs" stroke="#231f20" stroke-width="0.15">0.4</text>
<line x1="356.4" y1="385.5" x2="359.8" y2="385.5" stroke="#231f20" stroke-width="1"/>
<text x="352" y="387.9" font-size="7" text-anchor="end" fill="#231f20" textLength="8.17" lengthAdjust="spacingAndGlyphs" stroke="#231f20" stroke-width="0.15">0.5</text>
<text x="440.8" y="395.8" font-size="7.8" text-anchor="start" fill="#231f20" textLength="25.91" lengthAdjust="spacingAndGlyphs" stroke="#231f20" stroke-width="0.15">NES&#160; 1.7</text>
<text x="440.8" y="404.55" font-size="7.8" text-anchor="start" fill="#231f20" textLength="25.9" lengthAdjust="spacingAndGlyphs" stroke="#231f20" stroke-width="0.15">NOM 0.0</text>
<text x="440.8" y="413.3" font-size="7.8" text-anchor="start" fill="#231f20" textLength="25.9" lengthAdjust="spacingAndGlyphs" stroke="#231f20" stroke-width="0.15">FDR&#160; 0.0</text>
<text x="418.5" y="368.1" font-size="9.5" text-anchor="middle" fill="#231f20" textLength="86.9" lengthAdjust="spacingAndGlyphs" stroke="#231f20" stroke-width="0.15">HALLMARK_OXIDATIVE</text>
<text x="418.5" y="379.2" font-size="9.5" text-anchor="middle" fill="#231f20" textLength="80.8" lengthAdjust="spacingAndGlyphs" stroke="#231f20" stroke-width="0.15">_PHOSPHORYLATION</text>
<rect x="56.5" y="495.3" width="118.5" height="73.7" fill="#ffffff"/>
<line x1="68.5" y1="496.3" x2="68.5" y2="546.7" stroke="#f3f3f3" stroke-width="0.8"/>
<line x1="81.5" y1="496.3" x2="81.5" y2="546.7" stroke="#f3f3f3" stroke-width="0.8"/>
<line x1="93.5" y1="496.3" x2="93.5" y2="546.7" stroke="#f3f3f3" stroke-width="0.8"/>
<line x1="105.5" y1="496.3" x2="105.5" y2="546.7" stroke="#f3f3f3" stroke-width="0.8"/>
<line x1="117.5" y1="496.3" x2="117.5" y2="546.7" stroke="#f3f3f3" stroke-width="0.8"/>
<line x1="130.5" y1="496.3" x2="130.5" y2="546.7" stroke="#f3f3f3" stroke-width="0.8"/>
<line x1="142.5" y1="496.3" x2="142.5" y2="546.7" stroke="#f3f3f3" stroke-width="0.8"/>
<line x1="154.5" y1="496.3" x2="154.5" y2="546.7" stroke="#f3f3f3" stroke-width="0.8"/>
<line x1="167.5" y1="496.3" x2="167.5" y2="546.7" stroke="#f3f3f3" stroke-width="0.8"/>
<line x1="57.5" y1="508.5" x2="173.5" y2="508.5" stroke="#f3f3f3" stroke-width="0.8"/>
<line x1="57.5" y1="515.5" x2="173.5" y2="515.5" stroke="#f3f3f3" stroke-width="0.8"/>
<line x1="57.5" y1="522.5" x2="173.5" y2="522.5" stroke="#f3f3f3" stroke-width="0.8"/>
<line x1="57.5" y1="529.5" x2="173.5" y2="529.5" stroke="#f3f3f3" stroke-width="0.8"/>
<line x1="57.5" y1="537.5" x2="173.5" y2="537.5" stroke="#f3f3f3" stroke-width="0.8"/>
<line x1="57.5" y1="544.5" x2="173.5" y2="544.5" stroke="#f3f3f3" stroke-width="0.8"/>
<line x1="57.5" y1="501.5" x2="173.5" y2="501.5" stroke="#dcd6d6" stroke-width="1"/>
<line x1="57.5" y1="547.5" x2="173.5" y2="547.5" stroke="#dedede" stroke-width="0.9"/>
<rect x="57.3" y="547.7" width="2.3" height="16.8" fill="#999999"/>
<rect x="60.8" y="547.7" width="1.1" height="16.8" fill="#888888"/>
<rect x="63.1" y="547.7" width="1.7" height="16.8" fill="#333333"/>
<rect x="64.8" y="547.7" width="1.2" height="16.8" fill="#888888"/>
<rect x="67.7" y="547.7" width="1.1" height="16.8" fill="#999999"/>
<rect x="70" y="547.7" width="1.1" height="16.8" fill="#444444"/>
<rect x="71.1" y="547.7" width="1.2" height="16.8" fill="#bbbbbb"/>
<rect x="74" y="547.7" width="1.8" height="16.8" fill="#999999"/>
<rect x="75.8" y="547.7" width="1.7" height="16.8" fill="#cccccc"/>
<rect x="78.1" y="547.7" width="1.7" height="16.8" fill="#888888"/>
<rect x="82.1" y="547.7" width="1.2" height="16.8" fill="#111111"/>
<rect x="83.3" y="547.7" width="2.8" height="16.8" fill="#888888"/>
<rect x="86.1" y="547.7" width="3.5" height="16.8" fill="#aaaaaa"/>
<rect x="89.6" y="547.7" width="2.3" height="16.8" fill="#cccccc"/>
<rect x="94.8" y="547.7" width="1.7" height="16.8" fill="#999999"/>
<rect x="97.1" y="547.7" width="3.5" height="16.8" fill="#888888"/>
<rect x="104" y="547.7" width="1.2" height="16.8" fill="#aaaaaa"/>
<rect x="111.5" y="547.7" width="1.2" height="16.8" fill="#bbbbbb"/>
<rect x="115" y="547.7" width="1" height="16.8" fill="#cccccc"/>
<rect x="129.5" y="547.7" width="1.9" height="16.8" fill="#cccccc"/>
<rect x="132" y="547.7" width="1.8" height="16.8" fill="#777777"/>
<rect x="135" y="547.7" width="2.4" height="16.8" fill="#aaaaaa"/>
<rect x="138.6" y="547.7" width="1.9" height="16.8" fill="#999999"/>
<rect x="141" y="547.7" width="3.7" height="16.8" fill="#999999"/>
<rect x="145.3" y="547.7" width="1.8" height="16.8" fill="#888888"/>
<rect x="147.1" y="547.7" width="3.1" height="16.8" fill="#777777"/>
<rect x="150.2" y="547.7" width="1.8" height="16.8" fill="#333333"/>
<rect x="152" y="547.7" width="2.4" height="16.8" fill="#bbbbbb"/>
<rect x="154.4" y="547.7" width="5.4" height="16.8" fill="#444444"/>
<rect x="159.8" y="547.7" width="1.2" height="16.8" fill="#888888"/>
<rect x="161" y="547.7" width="1.9" height="16.8" fill="#333333"/>
<rect x="162.9" y="547.7" width="1.2" height="16.8" fill="#999999"/>
<rect x="164.1" y="547.7" width="4.2" height="16.8" fill="#222320"/>
<rect x="57.2" y="564.8" width="36.4" height="3.5" fill="url(#gR)"/>
<rect x="93.6" y="564.8" width="35.9" height="3.5" fill="url(#gP)"/>
<rect x="129.5" y="564.8" width="22.5" height="3.5" fill="url(#gL)"/>
<rect x="152" y="564.8" width="16.3" height="3.5" fill="url(#gU)"/>
<polyline points="56.9,500.4 57.16,500.13 57.52,499.73 57.95,499.27 58.4,498.8 58.83,498.39 59.2,498.1 59.49,497.92 59.73,497.8 59.94,497.74 60.17,497.73 60.45,497.75 60.8,497.8 61.25,497.9 61.79,498.07 62.36,498.27 62.95,498.48 63.51,498.66 64,498.8 64.4,498.87 64.72,498.88 65.01,498.88 65.33,498.87 65.71,498.91 66.2,499 66.77,499.13 67.38,499.28 68.05,499.46 68.82,499.7 69.73,500 70.8,500.4 72.12,500.93 73.68,501.59 75.37,502.32 77.09,503.07 78.73,503.78 80.2,504.4 81.47,504.91 82.63,505.34 83.72,505.74 84.77,506.14 85.81,506.58 86.9,507.1 88.02,507.7 89.13,508.37 90.24,509.07 91.36,509.79 92.48,510.51 93.6,511.2 94.73,511.87 95.86,512.54 97,513.21 98.14,513.87 99.27,514.53 100.4,515.2 101.52,515.87 102.64,516.53 103.76,517.19 104.87,517.86 105.98,518.53 107.1,519.2 108.22,519.87 109.33,520.54 110.44,521.21 111.56,521.89 112.68,522.58 113.8,523.3 114.9,524.03 115.96,524.75 117.03,525.49 118.14,526.26 119.32,527.09 120.6,528 122.01,529.01 123.52,530.13 125.1,531.3 126.73,532.48 128.37,533.63 130,534.7 131.65,535.7 133.35,536.68 135.06,537.62 136.76,538.52 138.42,539.38 140,540.2 141.55,540.99 143.1,541.75 144.61,542.47 146.02,543.13 147.3,543.71 148.4,544.2 149.27,544.59 149.93,544.88 150.46,545.1 150.91,545.25 151.37,545.35 151.9,545.4 152.48,545.41 153.07,545.38 153.66,545.29 154.24,545.14 154.82,544.91 155.4,544.6 155.97,544.21 156.54,543.76 157.1,543.23 157.66,542.62 158.23,541.91 158.8,541.1 159.38,540.23 159.96,539.31 160.55,538.29 161.14,537.14 161.72,535.79 162.3,534.2 162.88,532.36 163.46,530.31 164.03,528.06 164.6,525.65 165.16,523.09 165.7,520.4 166.26,517.3 166.84,513.72 167.41,509.99 167.94,506.45 168.38,503.44 168.7,501.3" fill="none" stroke="#5fb343" stroke-width="1.4" stroke-linejoin="round" stroke-linecap="round"/>
<rect x="56.5" y="495.3" width="118.5" height="73.7" fill="none" stroke="#2a2a2a" stroke-width="1.4"/>
<line x1="53.1" y1="501.5" x2="56.5" y2="501.5" stroke="#231f20" stroke-width="1"/>
<text x="48.7" y="503.6" font-size="7" text-anchor="end" fill="#231f20" textLength="8.17" lengthAdjust="spacingAndGlyphs" stroke="#231f20" stroke-width="0.15">0.0</text>
<line x1="53.1" y1="508.5" x2="56.5" y2="508.5" stroke="#231f20" stroke-width="1"/>
<text x="48.7" y="510.77" font-size="7" text-anchor="end" fill="#231f20" textLength="10.13" lengthAdjust="spacingAndGlyphs" stroke="#231f20" stroke-width="0.15">-0.1</text>
<line x1="53.1" y1="515.5" x2="56.5" y2="515.5" stroke="#231f20" stroke-width="1"/>
<text x="48.7" y="517.94" font-size="7" text-anchor="end" fill="#231f20" textLength="10.13" lengthAdjust="spacingAndGlyphs" stroke="#231f20" stroke-width="0.15">-0.2</text>
<line x1="53.1" y1="522.5" x2="56.5" y2="522.5" stroke="#231f20" stroke-width="1"/>
<text x="48.7" y="525.11" font-size="7" text-anchor="end" fill="#231f20" textLength="10.13" lengthAdjust="spacingAndGlyphs" stroke="#231f20" stroke-width="0.15">-0.3</text>
<line x1="53.1" y1="529.5" x2="56.5" y2="529.5" stroke="#231f20" stroke-width="1"/>
<text x="48.7" y="532.28" font-size="7" text-anchor="end" fill="#231f20" textLength="10.13" lengthAdjust="spacingAndGlyphs" stroke="#231f20" stroke-width="0.15">-0.4</text>
<line x1="53.1" y1="537.5" x2="56.5" y2="537.5" stroke="#231f20" stroke-width="1"/>
<text x="48.7" y="539.45" font-size="7" text-anchor="end" fill="#231f20" textLength="10.13" lengthAdjust="spacingAndGlyphs" stroke="#231f20" stroke-width="0.15">-0.5</text>
<line x1="53.1" y1="544.5" x2="56.5" y2="544.5" stroke="#231f20" stroke-width="1"/>
<text x="48.7" y="546.62" font-size="7" text-anchor="end" fill="#231f20" textLength="10.13" lengthAdjust="spacingAndGlyphs" stroke="#231f20" stroke-width="0.15">-0.6</text>
<text x="60.8" y="522.7" font-size="7.8" text-anchor="start" fill="#231f20" textLength="26.37" lengthAdjust="spacingAndGlyphs" stroke="#231f20" stroke-width="0.15">NES&#160; -2.1</text>
<text x="60.8" y="531.45" font-size="7.8" text-anchor="start" fill="#231f20" textLength="25.9" lengthAdjust="spacingAndGlyphs" stroke="#231f20" stroke-width="0.15">NOM 0.0</text>
<text x="60.8" y="540.2" font-size="7.8" text-anchor="start" fill="#231f20" textLength="25.9" lengthAdjust="spacingAndGlyphs" stroke="#231f20" stroke-width="0.15">FDR&#160; 0.0</text>
<text x="115.6" y="478.2" font-size="9.5" text-anchor="middle" fill="#231f20" textLength="115.4" lengthAdjust="spacingAndGlyphs" stroke="#231f20" stroke-width="0.15">HALLMARK_TNFA_SIGNALING</text>
<text x="114.5" y="488.6" font-size="9.5" text-anchor="middle" fill="#231f20" textLength="42" lengthAdjust="spacingAndGlyphs" stroke="#231f20" stroke-width="0.15">_VIA_NFKB</text>
<rect x="210.5" y="495.5" width="117.3" height="73.8" fill="#ffffff"/>
<line x1="222.5" y1="496.5" x2="222.5" y2="547" stroke="#f3f3f3" stroke-width="0.8"/>
<line x1="235.5" y1="496.5" x2="235.5" y2="547" stroke="#f3f3f3" stroke-width="0.8"/>
<line x1="247.5" y1="496.5" x2="247.5" y2="547" stroke="#f3f3f3" stroke-width="0.8"/>
<line x1="259.5" y1="496.5" x2="259.5" y2="547" stroke="#f3f3f3" stroke-width="0.8"/>
<line x1="272.5" y1="496.5" x2="272.5" y2="547" stroke="#f3f3f3" stroke-width="0.8"/>
<line x1="284.5" y1="496.5" x2="284.5" y2="547" stroke="#f3f3f3" stroke-width="0.8"/>
<line x1="296.5" y1="496.5" x2="296.5" y2="547" stroke="#f3f3f3" stroke-width="0.8"/>
<line x1="308.5" y1="496.5" x2="308.5" y2="547" stroke="#f3f3f3" stroke-width="0.8"/>
<line x1="321.5" y1="496.5" x2="321.5" y2="547" stroke="#f3f3f3" stroke-width="0.8"/>
<line x1="211.5" y1="510.5" x2="326.3" y2="510.5" stroke="#f3f3f3" stroke-width="0.8"/>
<line x1="211.5" y1="518.5" x2="326.3" y2="518.5" stroke="#f3f3f3" stroke-width="0.8"/>
<line x1="211.5" y1="527.5" x2="326.3" y2="527.5" stroke="#f3f3f3" stroke-width="0.8"/>
<line x1="211.5" y1="535.5" x2="326.3" y2="535.5" stroke="#f3f3f3" stroke-width="0.8"/>
<line x1="211.5" y1="544.5" x2="326.3" y2="544.5" stroke="#f3f3f3" stroke-width="0.8"/>
<line x1="211.5" y1="502.5" x2="326.3" y2="502.5" stroke="#dcd6d6" stroke-width="1"/>
<line x1="211.5" y1="547.5" x2="326.3" y2="547.5" stroke="#dedede" stroke-width="0.9"/>
<rect x="212.6" y="548" width="1.2" height="16.8" fill="#888888"/>
<rect x="218.4" y="548" width="2.3" height="16.8" fill="#999999"/>
<rect x="223" y="548" width="1.1" height="16.8" fill="#555555"/>
<rect x="225.3" y="548" width="1.2" height="16.8" fill="#666666"/>
<rect x="228.2" y="548" width="1.1" height="16.8" fill="#888888"/>
<rect x="231.1" y="548" width="1.1" height="16.8" fill="#999999"/>
<rect x="235.7" y="548" width="1.1" height="16.8" fill="#bbbbbb"/>
<rect x="239.7" y="548" width="1.7" height="16.8" fill="#999999"/>
<rect x="243.8" y="548" width="3.4" height="16.8" fill="#aaaaaa"/>
<rect x="254.1" y="548" width="1.2" height="16.8" fill="#888888"/>
<rect x="285" y="548" width="1.8" height="16.8" fill="#555555"/>
<rect x="289.2" y="548" width="0.6" height="16.8" fill="#777777"/>
<rect x="296.5" y="548" width="2.4" height="16.8" fill="#999999"/>
<rect x="303.2" y="548" width="1.2" height="16.8" fill="#888888"/>
<rect x="307.4" y="548" width="2.4" height="16.8" fill="#444444"/>
<rect x="309.8" y="548" width="3" height="16.8" fill="#aaaaaa"/>
<rect x="312.8" y="548" width="1.3" height="16.8" fill="#777777"/>
<rect x="318.9" y="548" width="3" height="16.8" fill="#555555"/>
<rect x="211.2" y="565.1" width="36" height="3.5" fill="url(#gR)"/>
<rect x="247.2" y="565.1" width="37.2" height="3.5" fill="url(#gP)"/>
<rect x="284.4" y="565.1" width="22.4" height="3.5" fill="url(#gL)"/>
<rect x="306.8" y="565.1" width="15.7" height="3.5" fill="url(#gU)"/>
<polyline points="210.8,502 211.05,502.12 211.4,502.3 211.81,502.51 212.25,502.72 212.69,502.93 213.1,503.1 213.48,503.23 213.87,503.34 214.25,503.44 214.63,503.54 215.02,503.65 215.4,503.8 215.77,504.03 216.14,504.34 216.5,504.67 216.87,504.95 217.27,505.11 217.7,505.1 218.18,504.83 218.7,504.34 219.25,503.73 219.8,503.12 220.32,502.61 220.8,502.3 221.23,502.27 221.63,502.44 222,502.72 222.36,502.99 222.73,503.15 223.1,503.1 223.48,502.8 223.87,502.33 224.25,501.74 224.63,501.12 225.02,500.52 225.4,500 225.78,499.54 226.17,499.08 226.55,498.64 226.93,498.24 227.32,497.92 227.7,497.7 228.08,497.61 228.47,497.64 228.85,497.74 229.23,497.87 229.62,497.97 230,498 230.36,497.92 230.71,497.78 231.05,497.61 231.41,497.46 231.82,497.37 232.3,497.4 232.87,497.56 233.51,497.8 234.21,498.12 234.91,498.47 235.58,498.84 236.2,499.2 236.75,499.57 237.26,499.99 237.75,500.41 238.23,500.83 238.7,501.2 239.2,501.5 239.67,501.69 240.11,501.79 240.55,501.85 241.03,501.92 241.6,502.05 242.3,502.3 243.16,502.67 244.14,503.11 245.21,503.61 246.33,504.17 247.44,504.77 248.5,505.4 249.47,506.03 250.38,506.68 251.29,507.36 252.25,508.12 253.34,508.99 254.6,510 256.06,511.17 257.67,512.48 259.4,513.89 261.22,515.39 263.1,516.93 265,518.5 266.96,520.13 269.01,521.86 271.12,523.64 273.26,525.42 275.39,527.16 277.5,528.8 279.66,530.4 281.9,532 284.14,533.56 286.29,535.02 288.28,536.35 290,537.5 291.45,538.46 292.7,539.27 293.77,539.94 294.71,540.5 295.54,540.94 296.3,541.3 296.92,541.48 297.37,541.47 297.71,541.34 298.02,541.21 298.36,541.16 298.8,541.3 299.37,541.68 300.01,542.25 300.69,542.91 301.36,543.55 301.97,544.08 302.5,544.4 302.91,544.45 303.22,544.31 303.49,544.05 303.74,543.77 304.03,543.56 304.4,543.5 304.87,543.69 305.41,544.06 305.99,544.51 306.56,544.89 307.07,545.1 307.5,545 307.81,544.51 308.02,543.72 308.19,542.75 308.34,541.72 308.53,540.76 308.8,540 309.16,539.42 309.59,538.93 310.06,538.5 310.52,538.13 310.94,537.8 311.3,537.5 311.57,537.28 311.77,537.17 311.94,537.09 312.1,537 312.27,536.82 312.5,536.5 312.78,535.97 313.11,535.29 313.45,534.51 313.79,533.74 314.12,533.04 314.4,532.5 314.62,532.1 314.78,531.77 314.92,531.51 315.08,531.34 315.29,531.27 315.6,531.3 316.04,531.59 316.59,532.18 317.2,532.86 317.81,533.43 318.36,533.71 318.8,533.5 319.11,532.74 319.34,531.59 319.52,530.13 319.67,528.48 319.82,526.74 320,525 320.21,523.2 320.43,521.24 320.65,519.18 320.87,517.1 321.09,515.05 321.3,513.1 321.52,511.14 321.75,509.08 321.98,507.06 322.19,505.2 322.37,503.64 322.5,502.5" fill="none" stroke="#5fb343" stroke-width="1.4" stroke-linejoin="round" stroke-linecap="round"/>
<rect x="210.5" y="495.5" width="117.3" height="73.8" fill="none" stroke="#2a2a2a" stroke-width="1.4"/>
<line x1="207.1" y1="502.5" x2="210.5" y2="502.5" stroke="#231f20" stroke-width="1"/>
<text x="202.7" y="504.4" font-size="7" text-anchor="end" fill="#231f20" textLength="8.17" lengthAdjust="spacingAndGlyphs" stroke="#231f20" stroke-width="0.15">0.0</text>
<line x1="207.1" y1="510.5" x2="210.5" y2="510.5" stroke="#231f20" stroke-width="1"/>
<text x="202.7" y="512.84" font-size="7" text-anchor="end" fill="#231f20" textLength="10.13" lengthAdjust="spacingAndGlyphs" stroke="#231f20" stroke-width="0.15">-0.1</text>
<line x1="207.1" y1="518.5" x2="210.5" y2="518.5" stroke="#231f20" stroke-width="1"/>
<text x="202.7" y="521.28" font-size="7" text-anchor="end" fill="#231f20" textLength="10.13" lengthAdjust="spacingAndGlyphs" stroke="#231f20" stroke-width="0.15">-0.2</text>
<line x1="207.1" y1="527.5" x2="210.5" y2="527.5" stroke="#231f20" stroke-width="1"/>
<text x="202.7" y="529.72" font-size="7" text-anchor="end" fill="#231f20" textLength="10.13" lengthAdjust="spacingAndGlyphs" stroke="#231f20" stroke-width="0.15">-0.3</text>
<line x1="207.1" y1="535.5" x2="210.5" y2="535.5" stroke="#231f20" stroke-width="1"/>
<text x="202.7" y="538.16" font-size="7" text-anchor="end" fill="#231f20" textLength="10.13" lengthAdjust="spacingAndGlyphs" stroke="#231f20" stroke-width="0.15">-0.4</text>
<line x1="207.1" y1="544.5" x2="210.5" y2="544.5" stroke="#231f20" stroke-width="1"/>
<text x="202.7" y="546.6" font-size="7" text-anchor="end" fill="#231f20" textLength="10.13" lengthAdjust="spacingAndGlyphs" stroke="#231f20" stroke-width="0.15">-0.5</text>
<text x="214.9" y="523.1" font-size="7.8" text-anchor="start" fill="#231f20" textLength="26.37" lengthAdjust="spacingAndGlyphs" stroke="#231f20" stroke-width="0.15">NES&#160; -1.5</text>
<text x="214.9" y="531.85" font-size="7.8" text-anchor="start" fill="#231f20" textLength="25.9" lengthAdjust="spacingAndGlyphs" stroke="#231f20" stroke-width="0.15">NOM 0.0</text>
<text x="214.9" y="540.6" font-size="7.8" text-anchor="start" fill="#231f20" textLength="25.9" lengthAdjust="spacingAndGlyphs" stroke="#231f20" stroke-width="0.15">FDR&#160; 0.0</text>
<text x="269.3" y="478.7" font-size="9.5" text-anchor="middle" fill="#231f20" textLength="85.3" lengthAdjust="spacingAndGlyphs" stroke="#231f20" stroke-width="0.15">HALLMARK_TGF_BETA</text>
<text x="269.5" y="489.2" font-size="9.5" text-anchor="middle" fill="#231f20" textLength="46.5" lengthAdjust="spacingAndGlyphs" stroke="#231f20" stroke-width="0.15">_SIGNALING</text>
<rect x="359.3" y="494.2" width="117.9" height="74.1" fill="#ffffff"/>
<line x1="371.5" y1="495.2" x2="371.5" y2="546" stroke="#f3f3f3" stroke-width="0.8"/>
<line x1="383.5" y1="495.2" x2="383.5" y2="546" stroke="#f3f3f3" stroke-width="0.8"/>
<line x1="396.5" y1="495.2" x2="396.5" y2="546" stroke="#f3f3f3" stroke-width="0.8"/>
<line x1="408.5" y1="495.2" x2="408.5" y2="546" stroke="#f3f3f3" stroke-width="0.8"/>
<line x1="420.5" y1="495.2" x2="420.5" y2="546" stroke="#f3f3f3" stroke-width="0.8"/>
<line x1="433.5" y1="495.2" x2="433.5" y2="546" stroke="#f3f3f3" stroke-width="0.8"/>
<line x1="445.5" y1="495.2" x2="445.5" y2="546" stroke="#f3f3f3" stroke-width="0.8"/>
<line x1="457.5" y1="495.2" x2="457.5" y2="546" stroke="#f3f3f3" stroke-width="0.8"/>
<line x1="470.5" y1="495.2" x2="470.5" y2="546" stroke="#f3f3f3" stroke-width="0.8"/>
<line x1="360.3" y1="495.5" x2="475.7" y2="495.5" stroke="#f3f3f3" stroke-width="0.8"/>
<line x1="360.3" y1="512.5" x2="475.7" y2="512.5" stroke="#f3f3f3" stroke-width="0.8"/>
<line x1="360.3" y1="521.5" x2="475.7" y2="521.5" stroke="#f3f3f3" stroke-width="0.8"/>
<line x1="360.3" y1="529.5" x2="475.7" y2="529.5" stroke="#f3f3f3" stroke-width="0.8"/>
<line x1="360.3" y1="538.5" x2="475.7" y2="538.5" stroke="#f3f3f3" stroke-width="0.8"/>
<line x1="360.3" y1="504.5" x2="475.7" y2="504.5" stroke="#dcd6d6" stroke-width="1"/>
<line x1="360.3" y1="546.5" x2="475.7" y2="546.5" stroke="#dedede" stroke-width="0.9"/>
<rect x="362.2" y="547" width="13.3" height="16.8" fill="#8c8c8c"/>
<rect x="381.8" y="547" width="6.9" height="16.8" fill="#8c8c8c"/>
<rect x="458.2" y="547" width="14.6" height="16.8" fill="#8c8c8c"/>
<rect x="362.2" y="547" width="4.6" height="16.8" fill="#999999"/>
<rect x="366.8" y="547" width="4" height="16.8" fill="#555555"/>
<rect x="370.8" y="547" width="4.7" height="16.8" fill="#bbbbbb"/>
<rect x="377.8" y="547" width="1.1" height="16.8" fill="#999999"/>
<rect x="381.8" y="547" width="1.7" height="16.8" fill="#333333"/>
<rect x="383.5" y="547" width="2.3" height="16.8" fill="#222320"/>
<rect x="385.8" y="547" width="2.9" height="16.8" fill="#777777"/>
<rect x="390.5" y="547" width="1" height="16.8" fill="#cccccc"/>
<rect x="395.6" y="547" width="1.8" height="16.8" fill="#aaaaaa"/>
<rect x="399.7" y="547" width="2.9" height="16.8" fill="#777777"/>
<rect x="402.6" y="547" width="2.9" height="16.8" fill="#aaaaaa"/>
<rect x="411.2" y="547" width="1.8" height="16.8" fill="#bbbbbb"/>
<rect x="423.7" y="547" width="1.2" height="16.8" fill="#bbbbbb"/>
<rect x="435.2" y="547" width="1.8" height="16.8" fill="#888888"/>
<rect x="439.4" y="547" width="1.8" height="16.8" fill="#777777"/>
<rect x="441.2" y="547" width="3.1" height="16.8" fill="#555555"/>
<rect x="444.9" y="547" width="3" height="16.8" fill="#777777"/>
<rect x="448.5" y="547" width="2.4" height="16.8" fill="#888888"/>
<rect x="452.8" y="547" width="2.4" height="16.8" fill="#999999"/>
<rect x="458.2" y="547" width="2.4" height="16.8" fill="#333333"/>
<rect x="460.6" y="547" width="2.4" height="16.8" fill="#666666"/>
<rect x="463" y="547" width="2.4" height="16.8" fill="#333333"/>
<rect x="465.4" y="547" width="1.9" height="16.8" fill="#888888"/>
<rect x="467.3" y="547" width="5.5" height="16.8" fill="#222320"/>
<rect x="360" y="564.1" width="36.8" height="3.5" fill="url(#gR)"/>
<rect x="396.8" y="564.1" width="36.6" height="3.5" fill="url(#gP)"/>
<rect x="433.4" y="564.1" width="23.6" height="3.5" fill="url(#gL)"/>
<rect x="457" y="564.1" width="15.2" height="3.5" fill="url(#gU)"/>
<polyline points="360.4,501.9 360.64,502.14 360.97,502.5 361.36,502.92 361.79,503.32 362.24,503.63 362.7,503.8 363.18,503.79 363.7,503.64 364.25,503.42 364.8,503.16 365.32,502.9 365.8,502.7 366.21,502.6 366.57,502.58 366.91,502.57 367.25,502.5 367.64,502.3 368.1,501.9 368.66,501.19 369.31,500.21 370,499.1 370.69,498.01 371.34,497.09 371.9,496.5 372.37,496.29 372.78,496.35 373.14,496.58 373.49,496.89 373.83,497.16 374.2,497.3 374.57,497.3 374.94,497.23 375.3,497.13 375.67,497.04 376.07,496.98 376.5,497 376.97,497.1 377.47,497.26 378,497.46 378.54,497.68 379.07,497.9 379.6,498.1 380.12,498.31 380.63,498.55 381.15,498.79 381.67,499 382.18,499.14 382.7,499.2 383.22,499.12 383.74,498.93 384.26,498.68 384.77,498.41 385.29,498.2 385.8,498.1 386.27,498.07 386.69,498.06 387.11,498.11 387.57,498.23 388.12,498.45 388.8,498.8 389.61,499.29 390.52,499.89 391.51,500.59 392.59,501.39 393.76,502.26 395,503.2 396.34,504.24 397.79,505.39 399.31,506.62 400.9,507.9 402.54,509.17 404.2,510.4 405.89,511.58 407.62,512.73 409.39,513.88 411.21,515.05 413.08,516.28 415,517.6 416.98,519.01 419.04,520.49 421.14,522.03 423.27,523.6 425.4,525.2 427.5,526.8 429.66,528.51 431.9,530.35 434.14,532.22 436.29,533.99 438.28,535.56 440,536.8 441.41,537.65 442.56,538.2 443.54,538.54 444.44,538.77 445.33,538.99 446.3,539.3 447.35,539.69 448.4,540.06 449.44,540.42 450.48,540.79 451.5,541.14 452.5,541.5 453.51,541.91 454.55,542.38 455.57,542.84 456.53,543.24 457.39,543.52 458.1,543.6 458.59,543.5 458.89,543.27 459.09,542.91 459.27,542.42 459.55,541.82 460,541.1 460.68,540.21 461.53,539.13 462.46,537.94 463.4,536.69 464.28,535.45 465,534.3 465.56,533.26 466.02,532.3 466.41,531.35 466.76,530.36 467.11,529.26 467.5,528 467.93,526.47 468.38,524.71 468.82,522.84 469.26,521 469.65,519.34 470,518 470.28,517.1 470.51,516.56 470.71,516.19 470.9,515.82 471.09,515.25 471.3,514.3 471.56,512.8 471.84,510.86 472.13,508.72 472.4,506.63 472.63,504.85 472.8,503.6" fill="none" stroke="#5fb343" stroke-width="1.4" stroke-linejoin="round" stroke-linecap="round"/>
<rect x="359.3" y="494.2" width="117.9" height="74.1" fill="none" stroke="#2a2a2a" stroke-width="1.4"/>
<line x1="355.9" y1="495.5" x2="359.3" y2="495.5" stroke="#231f20" stroke-width="1"/>
<text x="351.5" y="498.24" font-size="7" text-anchor="end" fill="#231f20" textLength="8.17" lengthAdjust="spacingAndGlyphs" stroke="#231f20" stroke-width="0.15">0.1</text>
<line x1="355.9" y1="504.5" x2="359.3" y2="504.5" stroke="#231f20" stroke-width="1"/>
<text x="351.5" y="506.7" font-size="7" text-anchor="end" fill="#231f20" textLength="8.17" lengthAdjust="spacingAndGlyphs" stroke="#231f20" stroke-width="0.15">0.0</text>
<line x1="355.9" y1="512.5" x2="359.3" y2="512.5" stroke="#231f20" stroke-width="1"/>
<text x="351.5" y="515.16" font-size="7" text-anchor="end" fill="#231f20" textLength="10.13" lengthAdjust="spacingAndGlyphs" stroke="#231f20" stroke-width="0.15">-0.1</text>
<line x1="355.9" y1="521.5" x2="359.3" y2="521.5" stroke="#231f20" stroke-width="1"/>
<text x="351.5" y="523.62" font-size="7" text-anchor="end" fill="#231f20" textLength="10.13" lengthAdjust="spacingAndGlyphs" stroke="#231f20" stroke-width="0.15">-0.2</text>
<line x1="355.9" y1="529.5" x2="359.3" y2="529.5" stroke="#231f20" stroke-width="1"/>
<text x="351.5" y="532.08" font-size="7" text-anchor="end" fill="#231f20" textLength="10.13" lengthAdjust="spacingAndGlyphs" stroke="#231f20" stroke-width="0.15">-0.3</text>
<line x1="355.9" y1="538.5" x2="359.3" y2="538.5" stroke="#231f20" stroke-width="1"/>
<text x="351.5" y="540.54" font-size="7" text-anchor="end" fill="#231f20" textLength="10.13" lengthAdjust="spacingAndGlyphs" stroke="#231f20" stroke-width="0.15">-0.4</text>
<text x="363.8" y="522.7" font-size="7.8" text-anchor="start" fill="#231f20" textLength="26.37" lengthAdjust="spacingAndGlyphs" stroke="#231f20" stroke-width="0.15">NES&#160; -1.6</text>
<text x="363.8" y="531.45" font-size="7.8" text-anchor="start" fill="#231f20" textLength="25.9" lengthAdjust="spacingAndGlyphs" stroke="#231f20" stroke-width="0.15">NOM 0.0</text>
<text x="363.8" y="540.2" font-size="7.8" text-anchor="start" fill="#231f20" textLength="25.9" lengthAdjust="spacingAndGlyphs" stroke="#231f20" stroke-width="0.15">FDR&#160; 0.0</text>
<text x="418.8" y="488.7" font-size="9.5" text-anchor="middle" fill="#231f20" textLength="90.5" lengthAdjust="spacingAndGlyphs" stroke="#231f20" stroke-width="0.15">HALLMARK_APOPTOSIS</text>
<text transform="translate(32.7,421.6) rotate(-90)" font-size="10.1" text-anchor="middle" fill="#231f20" textLength="78.5" lengthAdjust="spacingAndGlyphs" stroke="#231f20" stroke-width="0.15">Enrichment score</text>
<text transform="translate(30.5,525.2) rotate(-90)" font-size="10.1" text-anchor="middle" fill="#231f20" textLength="79.2" lengthAdjust="spacingAndGlyphs" stroke="#231f20" stroke-width="0.15">Enrichment score</text>
<text x="56.9" y="583.8" font-size="8.9" text-anchor="start" fill="#231f20" textLength="17.5" lengthAdjust="spacingAndGlyphs" stroke="#231f20" stroke-width="0.15">Phf6</text>
<text x="75.2" y="580.8" font-size="6.6" text-anchor="start" fill="#2a2627" textLength="10" lengthAdjust="spacingAndGlyphs" style="font-style:italic">&#916;/y</text>
<text x="142.4" y="584.2" font-size="8.9" text-anchor="start" fill="#231f20" textLength="17.5" lengthAdjust="spacingAndGlyphs" stroke="#231f20" stroke-width="0.15">Phf6</text>
<text x="159.6" y="581.2" font-size="6.6" text-anchor="start" fill="#2a2627" textLength="11.8" lengthAdjust="spacingAndGlyphs">W/y</text>
<text x="210.2" y="583.8" font-size="8.9" text-anchor="start" fill="#231f20" textLength="17.5" lengthAdjust="spacingAndGlyphs" stroke="#231f20" stroke-width="0.15">Phf6</text>
<text x="228.6" y="580.8" font-size="6.6" text-anchor="start" fill="#2a2627" textLength="10" lengthAdjust="spacingAndGlyphs" style="font-style:italic">&#916;/y</text>
<text x="296.9" y="584.3" font-size="8.9" text-anchor="start" fill="#231f20" textLength="17.5" lengthAdjust="spacingAndGlyphs" stroke="#231f20" stroke-width="0.15">Phf6</text>
<text x="314.4" y="581.3" font-size="6.6" text-anchor="start" fill="#2a2627" textLength="12" lengthAdjust="spacingAndGlyphs">W/y</text>
<text x="359.6" y="583.8" font-size="8.9" text-anchor="start" fill="#231f20" textLength="17.5" lengthAdjust="spacingAndGlyphs" stroke="#231f20" stroke-width="0.15">Phf6</text>
<text x="378" y="580.8" font-size="6.6" text-anchor="start" fill="#2a2627" textLength="10" lengthAdjust="spacingAndGlyphs" style="font-style:italic">&#916;/y</text>
<text x="445.4" y="584.2" font-size="8.9" text-anchor="start" fill="#231f20" textLength="17.5" lengthAdjust="spacingAndGlyphs" stroke="#231f20" stroke-width="0.15">Phf6</text>
<text x="463" y="581.2" font-size="6.6" text-anchor="start" fill="#2a2627" textLength="12" lengthAdjust="spacingAndGlyphs">W/y</text>
<rect x="60.2" y="683.4" width="6.8" height="41.2" fill="#a3293d"/>
<line x1="63.5" y1="681.7" x2="63.5" y2="683.9" stroke="#231f20" stroke-width="1"/>
<rect x="69.7" y="638.6" width="6.8" height="86" fill="#4a6791"/>
<line x1="73.5" y1="631" x2="73.5" y2="639.1" stroke="#231f20" stroke-width="1"/>
<rect x="80.1" y="703.1" width="6.8" height="21.5" fill="#a3293d"/>
<line x1="83.5" y1="700.2" x2="83.5" y2="703.6" stroke="#231f20" stroke-width="1"/>
<rect x="89.6" y="650.9" width="6.8" height="73.7" fill="#4a6791"/>
<line x1="93.5" y1="645.2" x2="93.5" y2="651.4" stroke="#231f20" stroke-width="1"/>
<rect x="99.1" y="706.2" width="6.8" height="18.4" fill="#a3293d"/>
<line x1="102.5" y1="705" x2="102.5" y2="706.7" stroke="#231f20" stroke-width="1"/>
<rect x="109.5" y="677.7" width="6.8" height="46.9" fill="#4a6791"/>
<line x1="112.5" y1="676.8" x2="112.5" y2="678.2" stroke="#231f20" stroke-width="1"/>
<rect x="119" y="709.3" width="6.8" height="15.3" fill="#a3293d"/>
<line x1="122.5" y1="705.7" x2="122.5" y2="709.8" stroke="#231f20" stroke-width="1"/>
<rect x="129" y="699" width="6.8" height="25.6" fill="#4a6791"/>
<line x1="132.5" y1="698.4" x2="132.5" y2="699.5" stroke="#231f20" stroke-width="1"/>
<line x1="63.7" y1="700.5" x2="71.4" y2="700.5" stroke="#231f20" stroke-width="1.1"/>
<line x1="83.2" y1="713.5" x2="91.3" y2="713.5" stroke="#231f20" stroke-width="1.1"/>
<line x1="103.1" y1="716.5" x2="110.4" y2="716.5" stroke="#231f20" stroke-width="1.1"/>
<line x1="122.5" y1="719.5" x2="130.3" y2="719.5" stroke="#231f20" stroke-width="1.1"/>
<line x1="58.5" y1="617.2" x2="58.5" y2="725" stroke="#231f20" stroke-width="1.1"/>
<line x1="58" y1="724.5" x2="138.9" y2="724.5" stroke="#231f20" stroke-width="1.2"/>
<line x1="54.6" y1="621.5" x2="58.3" y2="621.5" stroke="#231f20" stroke-width="1"/>
<text x="51.3" y="624" font-size="8.8" text-anchor="end" fill="#231f20" textLength="10.27" lengthAdjust="spacingAndGlyphs" stroke="#231f20" stroke-width="0.15">7.5</text>
<line x1="54.6" y1="655.5" x2="58.3" y2="655.5" stroke="#231f20" stroke-width="1"/>
<text x="51.3" y="658.5" font-size="8.8" text-anchor="end" fill="#231f20" textLength="10.27" lengthAdjust="spacingAndGlyphs" stroke="#231f20" stroke-width="0.15">5.0</text>
<line x1="54.6" y1="690.5" x2="58.3" y2="690.5" stroke="#231f20" stroke-width="1"/>
<text x="51.3" y="693" font-size="8.8" text-anchor="end" fill="#231f20" textLength="10.27" lengthAdjust="spacingAndGlyphs" stroke="#231f20" stroke-width="0.15">2.5</text>
<line x1="54.6" y1="724.5" x2="58.3" y2="724.5" stroke="#231f20" stroke-width="1"/>
<text x="51.3" y="727.5" font-size="8.8" text-anchor="end" fill="#231f20" textLength="4.11" lengthAdjust="spacingAndGlyphs" stroke="#231f20" stroke-width="0.15">0</text>
<text transform="translate(32.6,674.8) rotate(-90)" font-size="10.2" text-anchor="middle" fill="#231f20" textLength="89" lengthAdjust="spacingAndGlyphs" stroke="#231f20" stroke-width="0.15">Cell number (x10<tspan dy="-3.6" font-size="7.2">4</tspan><tspan dy="3.6">)</tspan></text>
<line x1="63.7" y1="615.5" x2="124.2" y2="615.5" stroke="#231f20" stroke-width="1.1"/>
<line x1="63.5" y1="615.3" x2="63.5" y2="636.5" stroke="#231f20" stroke-width="1.1"/>
<line x1="83.5" y1="615.3" x2="83.5" y2="663.3" stroke="#231f20" stroke-width="1.1"/>
<line x1="102.5" y1="615.3" x2="102.5" y2="663.3" stroke="#231f20" stroke-width="1.1"/>
<line x1="123.5" y1="615.3" x2="123.5" y2="663.3" stroke="#231f20" stroke-width="1.1"/>
<line x1="71.4" y1="605.5" x2="132.5" y2="605.5" stroke="#231f20" stroke-width="1" stroke-dasharray="1.1,1.1"/>
<line x1="71.5" y1="605.7" x2="71.5" y2="621.8" stroke="#231f20" stroke-width="1" stroke-dasharray="1.1,1.1"/>
<line x1="91.5" y1="605.7" x2="91.5" y2="627.9" stroke="#231f20" stroke-width="1" stroke-dasharray="1.1,1.1"/>
<line x1="112.5" y1="605.7" x2="112.5" y2="645.2" stroke="#231f20" stroke-width="1" stroke-dasharray="1.1,1.1"/>
<line x1="132.5" y1="605.7" x2="132.5" y2="654.7" stroke="#231f20" stroke-width="1" stroke-dasharray="1.1,1.1"/>
<circle cx="82.8" cy="677.55" r="1.15" fill="#231f20"/>
<circle cx="82.8" cy="674.45" r="1.15" fill="#231f20"/>
<circle cx="102.2" cy="677.55" r="1.15" fill="#231f20"/>
<circle cx="102.2" cy="674.45" r="1.15" fill="#231f20"/>
<circle cx="123.4" cy="677.55" r="1.15" fill="#231f20"/>
<circle cx="123.4" cy="674.45" r="1.15" fill="#231f20"/>
<circle cx="112.6" cy="651.9" r="1.15" fill="#231f20"/>
<circle cx="132.7" cy="661.95" r="1.15" fill="#231f20"/>
<circle cx="132.7" cy="658.85" r="1.15" fill="#231f20"/>
<text transform="translate(96.1,637.4) rotate(-90)" font-size="9" text-anchor="middle" fill="#231f20" textLength="7.4" lengthAdjust="spacingAndGlyphs" stroke="#231f20" stroke-width="0.15">ns</text>
<circle cx="73.1" cy="696.2" r="0.85" fill="#ffffff"/>
<circle cx="93" cy="713.4" r="0.85" fill="#ffffff"/>
<circle cx="93" cy="711.2" r="0.85" fill="#ffffff"/>
<circle cx="112.8" cy="717.9" r="0.85" fill="#ffffff"/>
<circle cx="112.8" cy="715.7" r="0.85" fill="#ffffff"/>
<circle cx="112.8" cy="713.5" r="0.85" fill="#ffffff"/>
<text transform="translate(134.7,715.7) rotate(-90)" font-size="7.5" text-anchor="middle" fill="#ffffff" textLength="7" lengthAdjust="spacingAndGlyphs">ns</text>
<line x1="60.2" y1="729.5" x2="74.6" y2="729.5" stroke="#231f20" stroke-width="1"/>
<line x1="81" y1="729.5" x2="95.1" y2="729.5" stroke="#231f20" stroke-width="1"/>
<line x1="99.6" y1="729.5" x2="113.8" y2="729.5" stroke="#231f20" stroke-width="1"/>
<line x1="118.2" y1="729.5" x2="132.5" y2="729.5" stroke="#231f20" stroke-width="1"/>
<text x="46.6" y="740.4" font-size="8.6" text-anchor="end" fill="#231f20" textLength="20.1" lengthAdjust="spacingAndGlyphs" stroke="#231f20" stroke-width="0.15">TNF&#945;</text>
<text x="67.3" y="740.4" font-size="8.6" text-anchor="middle" fill="#231f20" stroke="#231f20" stroke-width="0.15">0</text>
<text x="88.1" y="740.4" font-size="8.6" text-anchor="middle" fill="#231f20" stroke="#231f20" stroke-width="0.15">1</text>
<text x="106.6" y="740.4" font-size="8.6" text-anchor="middle" fill="#231f20" stroke="#231f20" stroke-width="0.15">5</text>
<text x="121.6" y="740.4" font-size="8.6" text-anchor="start" fill="#231f20" textLength="42.5" lengthAdjust="spacingAndGlyphs" stroke="#231f20" stroke-width="0.15">20 (ng/ml)</text>
<rect x="156.3" y="639.2" width="10.2" height="10" fill="#a3293d"/>
<rect x="156.3" y="653.7" width="10.2" height="10.3" fill="#4a6791"/>
<text x="169.8" y="647.3" font-size="9.3" text-anchor="start" fill="#231f20" textLength="11.6" lengthAdjust="spacingAndGlyphs" stroke="#231f20" stroke-width="0.15">VC</text>
<text x="169.8" y="662.7" font-size="9.3" text-anchor="start" fill="#231f20" textLength="28.9" lengthAdjust="spacingAndGlyphs" stroke="#231f20" stroke-width="0.15">VC;Phf6</text>
<text x="203" y="659.8" font-size="7" text-anchor="start" fill="#2a2627" textLength="10.7" lengthAdjust="spacingAndGlyphs" style="font-style:italic">&#916;/y</text>
<rect x="0.5" y="0.5" width="519" height="751" fill="none" stroke="#000" stroke-width="1"/>
<rect x="0" y="750" width="520" height="2" fill="#595959"/>
</svg>
</body></html>
